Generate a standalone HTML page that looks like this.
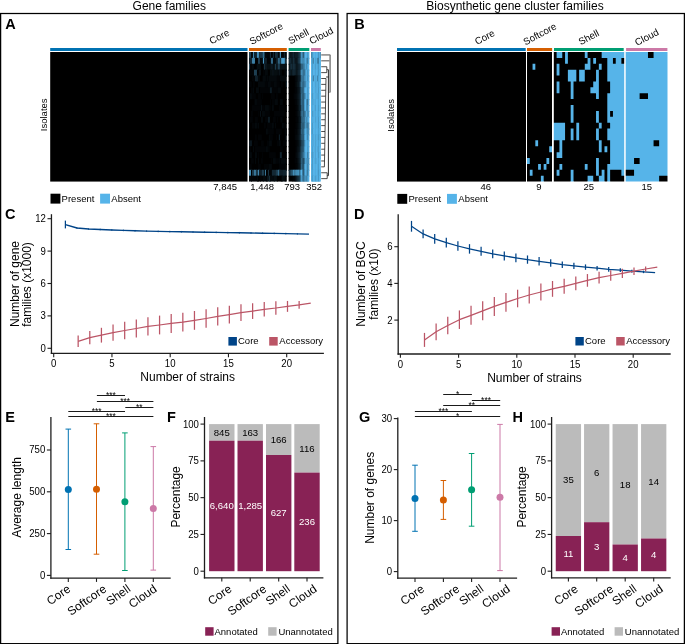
<!DOCTYPE html>
<html><head><meta charset="utf-8"><title>Figure</title>
<style>
html,body{margin:0;padding:0;background:#fff;}
svg{display:block;will-change:transform;}
text{font-family:"Liberation Sans", sans-serif;}
</style></head><body>
<svg width="685" height="644" viewBox="0 0 685 644">
<rect width="685" height="644" fill="#fff"/>
<g fill="#000">
<rect x="0.62" y="13.5" width="337.28" height="630.15" fill="none" stroke="#000" stroke-width="1.25"/>
<rect x="347.1" y="13.5" width="337.28" height="630.15" fill="none" stroke="#000" stroke-width="1.25"/>
<text x="169.3" y="9.6" font-size="12" text-anchor="middle">Gene families</text>
<text x="515" y="9.6" font-size="12" text-anchor="middle">Biosynthetic gene cluster families</text>
<text x="5.2" y="28.7" font-size="14.5" font-weight="bold">A</text>
<text x="354.3" y="28.5" font-size="14.5" font-weight="bold">B</text>
<text x="5" y="218.9" font-size="14.5" font-weight="bold">C</text>
<text x="354" y="218.9" font-size="14.5" font-weight="bold">D</text>
<text x="5.2" y="421.7" font-size="14.5" font-weight="bold">E</text>
<text x="167" y="421.7" font-size="14.5" font-weight="bold">F</text>
<text x="359" y="421.7" font-size="14.5" font-weight="bold">G</text>
<text x="512.5" y="421.9" font-size="14.5" font-weight="bold">H</text>
<rect x="50.2" y="48" width="197.3" height="3" fill="#0072B2"/>
<rect x="249" y="48" width="37.8" height="3" fill="#D55E00"/>
<rect x="288.6" y="48" width="20.7" height="3" fill="#009E73"/>
<rect x="311" y="48" width="9.8" height="3" fill="#CC79A7"/>
<rect x="50.2" y="52" width="197.3" height="129.58" fill="#000000"/>
<rect x="249" y="52" width="37" height="129" fill="#000000"/>
<rect x="249" y="52" width="2.79" height="6.89" fill="#1e3f52"/>
<rect x="250.99" y="52" width="2.79" height="6.89" fill="#04090c"/>
<rect x="252.98" y="52" width="1.79" height="6.89" fill="#4087af"/>
<rect x="253.97" y="52" width="3.78" height="6.89" fill="#11242f"/>
<rect x="256.96" y="52" width="2.79" height="6.89" fill="#438cb5"/>
<rect x="258.95" y="52" width="1.79" height="6.89" fill="#162d3a"/>
<rect x="259.94" y="52" width="2.79" height="6.89" fill="#1a3646"/>
<rect x="261.93" y="52" width="1.79" height="6.89" fill="#1e3f52"/>
<rect x="262.93" y="52" width="1.79" height="6.89" fill="#367092"/>
<rect x="263.92" y="52" width="1.79" height="6.89" fill="#1e3f52"/>
<rect x="264.92" y="52" width="2.79" height="6.89" fill="#04090c"/>
<rect x="266.91" y="52" width="3.78" height="6.89" fill="#020406"/>
<rect x="269.89" y="52" width="1.79" height="6.89" fill="#183240"/>
<rect x="270.88" y="52" width="2.79" height="6.89" fill="#020406"/>
<rect x="272.87" y="52" width="1.79" height="6.89" fill="#162d3a"/>
<rect x="273.87" y="52" width="1.79" height="6.89" fill="#000000"/>
<rect x="274.86" y="52" width="3.78" height="6.89" fill="#162d3a"/>
<rect x="277.85" y="52" width="2.79" height="6.89" fill="#04090c"/>
<rect x="279.84" y="52" width="1.79" height="6.89" fill="#50a6d8"/>
<rect x="280.83" y="52" width="1.79" height="6.89" fill="#04090c"/>
<rect x="281.83" y="52" width="2.79" height="6.89" fill="#020406"/>
<rect x="283.82" y="52" width="1.79" height="6.89" fill="#132834"/>
<rect x="284.81" y="52" width="1.79" height="6.89" fill="#000000"/>
<rect x="285.81" y="52" width="0.99" height="6.89" fill="#11242f"/>
<rect x="249" y="57.89" width="1.79" height="6.89" fill="#0d1b23"/>
<rect x="249.99" y="57.89" width="2.79" height="6.89" fill="#11242f"/>
<rect x="251.98" y="57.89" width="3.78" height="6.89" fill="#3c7ea3"/>
<rect x="254.97" y="57.89" width="1.79" height="6.89" fill="#020406"/>
<rect x="255.96" y="57.89" width="2.79" height="6.89" fill="#000000"/>
<rect x="257.95" y="57.89" width="2.79" height="6.89" fill="#1e3f52"/>
<rect x="259.94" y="57.89" width="3.78" height="6.89" fill="#04090c"/>
<rect x="262.93" y="57.89" width="1.79" height="6.89" fill="#4da2d2"/>
<rect x="263.92" y="57.89" width="3.78" height="6.89" fill="#0f1f29"/>
<rect x="266.91" y="57.89" width="4.78" height="6.89" fill="#020406"/>
<rect x="270.88" y="57.89" width="1.79" height="6.89" fill="#316786"/>
<rect x="271.88" y="57.89" width="1.79" height="6.89" fill="#387597"/>
<rect x="272.87" y="57.89" width="3.78" height="6.89" fill="#04090c"/>
<rect x="275.86" y="57.89" width="2.79" height="6.89" fill="#0f1f29"/>
<rect x="277.85" y="57.89" width="2.79" height="6.89" fill="#2f6380"/>
<rect x="279.84" y="57.89" width="1.79" height="6.89" fill="#11242f"/>
<rect x="280.83" y="57.89" width="1.79" height="6.89" fill="#4087af"/>
<rect x="281.83" y="57.89" width="3.78" height="6.89" fill="#4b9ecc"/>
<rect x="284.81" y="57.89" width="1.99" height="6.89" fill="#162d3a"/>
<rect x="249" y="63.78" width="1.79" height="6.89" fill="#1e3f52"/>
<rect x="249.99" y="63.78" width="2.79" height="6.89" fill="#020406"/>
<rect x="251.98" y="63.78" width="2.79" height="6.89" fill="#04090c"/>
<rect x="253.97" y="63.78" width="2.79" height="6.89" fill="#000000"/>
<rect x="255.96" y="63.78" width="1.79" height="6.89" fill="#020406"/>
<rect x="256.96" y="63.78" width="4.78" height="6.89" fill="#060e11"/>
<rect x="260.94" y="63.78" width="2.79" height="6.89" fill="#000000"/>
<rect x="262.93" y="63.78" width="1.79" height="6.89" fill="#020406"/>
<rect x="263.92" y="63.78" width="1.79" height="6.89" fill="#183240"/>
<rect x="264.92" y="63.78" width="2.79" height="6.89" fill="#0b161d"/>
<rect x="266.91" y="63.78" width="3.78" height="6.89" fill="#060e11"/>
<rect x="269.89" y="63.78" width="1.79" height="6.89" fill="#091217"/>
<rect x="270.88" y="63.78" width="2.79" height="6.89" fill="#0b161d"/>
<rect x="272.87" y="63.78" width="2.79" height="6.89" fill="#060e11"/>
<rect x="274.86" y="63.78" width="1.79" height="6.89" fill="#1e3f52"/>
<rect x="275.86" y="63.78" width="2.79" height="6.89" fill="#0b161d"/>
<rect x="277.85" y="63.78" width="2.79" height="6.89" fill="#1e3f52"/>
<rect x="279.84" y="63.78" width="5.77" height="6.89" fill="#091217"/>
<rect x="284.81" y="63.78" width="1.79" height="6.89" fill="#060e11"/>
<rect x="285.81" y="63.78" width="0.99" height="6.89" fill="#0b161d"/>
<rect x="249" y="69.67" width="5.77" height="6.89" fill="#020406"/>
<rect x="253.97" y="69.67" width="3.78" height="6.89" fill="#1e3f52"/>
<rect x="256.96" y="69.67" width="1.79" height="6.89" fill="#000000"/>
<rect x="257.95" y="69.67" width="1.79" height="6.89" fill="#020406"/>
<rect x="258.95" y="69.67" width="2.79" height="6.89" fill="#091217"/>
<rect x="260.94" y="69.67" width="2.79" height="6.89" fill="#000000"/>
<rect x="262.93" y="69.67" width="2.79" height="6.89" fill="#020406"/>
<rect x="264.92" y="69.67" width="3.78" height="6.89" fill="#04090c"/>
<rect x="267.9" y="69.67" width="2.79" height="6.89" fill="#000000"/>
<rect x="269.89" y="69.67" width="2.79" height="6.89" fill="#060e11"/>
<rect x="271.88" y="69.67" width="2.79" height="6.89" fill="#091217"/>
<rect x="273.87" y="69.67" width="4.78" height="6.89" fill="#060e11"/>
<rect x="277.85" y="69.67" width="1.79" height="6.89" fill="#04090c"/>
<rect x="278.84" y="69.67" width="1.79" height="6.89" fill="#0b161d"/>
<rect x="279.84" y="69.67" width="2.79" height="6.89" fill="#04090c"/>
<rect x="281.83" y="69.67" width="2.79" height="6.89" fill="#000000"/>
<rect x="283.82" y="69.67" width="2.79" height="6.89" fill="#020406"/>
<rect x="285.81" y="69.67" width="0.99" height="6.89" fill="#0b161d"/>
<rect x="249" y="75.56" width="3.78" height="6.89" fill="#000000"/>
<rect x="251.98" y="75.56" width="3.78" height="6.89" fill="#020406"/>
<rect x="254.97" y="75.56" width="3.78" height="6.89" fill="#0f1f29"/>
<rect x="257.95" y="75.56" width="2.79" height="6.89" fill="#04090c"/>
<rect x="259.94" y="75.56" width="2.79" height="6.89" fill="#000000"/>
<rect x="261.93" y="75.56" width="1.79" height="6.89" fill="#020406"/>
<rect x="262.93" y="75.56" width="3.78" height="6.89" fill="#04090c"/>
<rect x="265.91" y="75.56" width="1.79" height="6.89" fill="#020406"/>
<rect x="266.91" y="75.56" width="1.79" height="6.89" fill="#04090c"/>
<rect x="267.9" y="75.56" width="1.79" height="6.89" fill="#020406"/>
<rect x="268.89" y="75.56" width="8.76" height="6.89" fill="#04090c"/>
<rect x="276.85" y="75.56" width="3.78" height="6.89" fill="#020406"/>
<rect x="279.84" y="75.56" width="6.96" height="6.89" fill="#04090c"/>
<rect x="249" y="81.45" width="1.79" height="6.89" fill="#04090c"/>
<rect x="249.99" y="81.45" width="2.79" height="6.89" fill="#020406"/>
<rect x="251.98" y="81.45" width="1.79" height="6.89" fill="#000000"/>
<rect x="252.98" y="81.45" width="2.79" height="6.89" fill="#020406"/>
<rect x="254.97" y="81.45" width="3.78" height="6.89" fill="#000000"/>
<rect x="257.95" y="81.45" width="7.76" height="6.89" fill="#04090c"/>
<rect x="264.92" y="81.45" width="3.78" height="6.89" fill="#020406"/>
<rect x="267.9" y="81.45" width="3.78" height="6.89" fill="#04090c"/>
<rect x="270.88" y="81.45" width="3.78" height="6.89" fill="#020406"/>
<rect x="273.87" y="81.45" width="3.78" height="6.89" fill="#04090c"/>
<rect x="276.85" y="81.45" width="3.78" height="6.89" fill="#020406"/>
<rect x="279.84" y="81.45" width="1.79" height="6.89" fill="#000000"/>
<rect x="280.83" y="81.45" width="2.79" height="6.89" fill="#020406"/>
<rect x="282.82" y="81.45" width="3.78" height="6.89" fill="#000000"/>
<rect x="285.81" y="81.45" width="0.99" height="6.89" fill="#11242f"/>
<rect x="249" y="87.34" width="2.79" height="6.89" fill="#000000"/>
<rect x="250.99" y="87.34" width="2.79" height="6.89" fill="#020406"/>
<rect x="252.98" y="87.34" width="1.79" height="6.89" fill="#04090c"/>
<rect x="253.97" y="87.34" width="2.79" height="6.89" fill="#000000"/>
<rect x="255.96" y="87.34" width="3.78" height="6.89" fill="#04090c"/>
<rect x="258.95" y="87.34" width="1.79" height="6.89" fill="#000000"/>
<rect x="259.94" y="87.34" width="10.75" height="6.89" fill="#020406"/>
<rect x="269.89" y="87.34" width="2.79" height="6.89" fill="#0d1b23"/>
<rect x="271.88" y="87.34" width="6.77" height="6.89" fill="#020406"/>
<rect x="277.85" y="87.34" width="3.78" height="6.89" fill="#04090c"/>
<rect x="280.83" y="87.34" width="5.97" height="6.89" fill="#000000"/>
<rect x="249" y="93.23" width="1.79" height="6.89" fill="#000000"/>
<rect x="249.99" y="93.23" width="2.79" height="6.89" fill="#04090c"/>
<rect x="251.98" y="93.23" width="4.78" height="6.89" fill="#020406"/>
<rect x="255.96" y="93.23" width="2.79" height="6.89" fill="#000000"/>
<rect x="257.95" y="93.23" width="3.78" height="6.89" fill="#020406"/>
<rect x="260.94" y="93.23" width="1.79" height="6.89" fill="#000000"/>
<rect x="261.93" y="93.23" width="1.79" height="6.89" fill="#020406"/>
<rect x="262.93" y="93.23" width="8.76" height="6.89" fill="#000000"/>
<rect x="270.88" y="93.23" width="4.78" height="6.89" fill="#020406"/>
<rect x="274.86" y="93.23" width="1.79" height="6.89" fill="#000000"/>
<rect x="275.86" y="93.23" width="2.79" height="6.89" fill="#020406"/>
<rect x="277.85" y="93.23" width="8.95" height="6.89" fill="#000000"/>
<rect x="249" y="99.12" width="5.77" height="6.89" fill="#000000"/>
<rect x="253.97" y="99.12" width="1.79" height="6.89" fill="#020406"/>
<rect x="254.97" y="99.12" width="2.79" height="6.89" fill="#04090c"/>
<rect x="256.96" y="99.12" width="5.77" height="6.89" fill="#020406"/>
<rect x="261.93" y="99.12" width="8.76" height="6.89" fill="#000000"/>
<rect x="269.89" y="99.12" width="1.79" height="6.89" fill="#020406"/>
<rect x="270.88" y="99.12" width="1.79" height="6.89" fill="#000000"/>
<rect x="271.88" y="99.12" width="3.78" height="6.89" fill="#020406"/>
<rect x="274.86" y="99.12" width="3.78" height="6.89" fill="#04090c"/>
<rect x="277.85" y="99.12" width="2.79" height="6.89" fill="#000000"/>
<rect x="279.84" y="99.12" width="3.78" height="6.89" fill="#04090c"/>
<rect x="282.82" y="99.12" width="3.98" height="6.89" fill="#000000"/>
<rect x="249" y="105.01" width="3.78" height="6.89" fill="#000000"/>
<rect x="251.98" y="105.01" width="9.75" height="6.89" fill="#020406"/>
<rect x="260.94" y="105.01" width="1.79" height="6.89" fill="#091217"/>
<rect x="261.93" y="105.01" width="3.78" height="6.89" fill="#020406"/>
<rect x="264.92" y="105.01" width="4.78" height="6.89" fill="#04090c"/>
<rect x="268.89" y="105.01" width="2.79" height="6.89" fill="#020406"/>
<rect x="270.88" y="105.01" width="1.79" height="6.89" fill="#000000"/>
<rect x="271.88" y="105.01" width="2.79" height="6.89" fill="#04090c"/>
<rect x="273.87" y="105.01" width="5.77" height="6.89" fill="#000000"/>
<rect x="278.84" y="105.01" width="6.77" height="6.89" fill="#020406"/>
<rect x="284.81" y="105.01" width="1.79" height="6.89" fill="#000000"/>
<rect x="285.81" y="105.01" width="0.99" height="6.89" fill="#020406"/>
<rect x="249" y="110.9" width="2.79" height="6.89" fill="#000000"/>
<rect x="250.99" y="110.9" width="2.79" height="6.89" fill="#020406"/>
<rect x="252.98" y="110.9" width="5.77" height="6.89" fill="#000000"/>
<rect x="257.95" y="110.9" width="1.79" height="6.89" fill="#020406"/>
<rect x="258.95" y="110.9" width="1.79" height="6.89" fill="#000000"/>
<rect x="259.94" y="110.9" width="1.79" height="6.89" fill="#091217"/>
<rect x="260.94" y="110.9" width="1.79" height="6.89" fill="#000000"/>
<rect x="261.93" y="110.9" width="3.78" height="6.89" fill="#04090c"/>
<rect x="264.92" y="110.9" width="5.77" height="6.89" fill="#020406"/>
<rect x="269.89" y="110.9" width="4.78" height="6.89" fill="#000000"/>
<rect x="273.87" y="110.9" width="11.74" height="6.89" fill="#020406"/>
<rect x="284.81" y="110.9" width="1.99" height="6.89" fill="#000000"/>
<rect x="249" y="116.79" width="1.79" height="6.89" fill="#000000"/>
<rect x="249.99" y="116.79" width="3.78" height="6.89" fill="#020406"/>
<rect x="252.98" y="116.79" width="2.79" height="6.89" fill="#000000"/>
<rect x="254.97" y="116.79" width="3.78" height="6.89" fill="#020406"/>
<rect x="257.95" y="116.79" width="3.78" height="6.89" fill="#000000"/>
<rect x="260.94" y="116.79" width="2.79" height="6.89" fill="#04090c"/>
<rect x="262.93" y="116.79" width="2.79" height="6.89" fill="#000000"/>
<rect x="264.92" y="116.79" width="3.78" height="6.89" fill="#020406"/>
<rect x="267.9" y="116.79" width="2.79" height="6.89" fill="#0d1b23"/>
<rect x="269.89" y="116.79" width="3.78" height="6.89" fill="#000000"/>
<rect x="272.87" y="116.79" width="3.78" height="6.89" fill="#020406"/>
<rect x="275.86" y="116.79" width="1.79" height="6.89" fill="#000000"/>
<rect x="276.85" y="116.79" width="1.79" height="6.89" fill="#020406"/>
<rect x="277.85" y="116.79" width="2.79" height="6.89" fill="#000000"/>
<rect x="279.84" y="116.79" width="1.79" height="6.89" fill="#020406"/>
<rect x="280.83" y="116.79" width="1.79" height="6.89" fill="#04090c"/>
<rect x="281.83" y="116.79" width="1.79" height="6.89" fill="#020406"/>
<rect x="282.82" y="116.79" width="3.98" height="6.89" fill="#000000"/>
<rect x="249" y="122.68" width="1.79" height="6.89" fill="#04090c"/>
<rect x="249.99" y="122.68" width="2.79" height="6.89" fill="#000000"/>
<rect x="251.98" y="122.68" width="3.78" height="6.89" fill="#020406"/>
<rect x="254.97" y="122.68" width="2.79" height="6.89" fill="#04090c"/>
<rect x="256.96" y="122.68" width="1.79" height="6.89" fill="#020406"/>
<rect x="257.95" y="122.68" width="1.79" height="6.89" fill="#04090c"/>
<rect x="258.95" y="122.68" width="5.77" height="6.89" fill="#000000"/>
<rect x="263.92" y="122.68" width="2.79" height="6.89" fill="#020406"/>
<rect x="265.91" y="122.68" width="1.79" height="6.89" fill="#000000"/>
<rect x="266.91" y="122.68" width="5.77" height="6.89" fill="#020406"/>
<rect x="271.88" y="122.68" width="2.79" height="6.89" fill="#04090c"/>
<rect x="273.87" y="122.68" width="1.79" height="6.89" fill="#000000"/>
<rect x="274.86" y="122.68" width="1.79" height="6.89" fill="#04090c"/>
<rect x="275.86" y="122.68" width="6.77" height="6.89" fill="#000000"/>
<rect x="281.83" y="122.68" width="2.79" height="6.89" fill="#04090c"/>
<rect x="283.82" y="122.68" width="2.98" height="6.89" fill="#020406"/>
<rect x="249" y="128.57" width="17.71" height="6.89" fill="#000000"/>
<rect x="265.91" y="128.57" width="2.79" height="6.89" fill="#04090c"/>
<rect x="267.9" y="128.57" width="6.77" height="6.89" fill="#020406"/>
<rect x="273.87" y="128.57" width="2.79" height="6.89" fill="#000000"/>
<rect x="275.86" y="128.57" width="6.77" height="6.89" fill="#020406"/>
<rect x="281.83" y="128.57" width="3.78" height="6.89" fill="#000000"/>
<rect x="284.81" y="128.57" width="1.79" height="6.89" fill="#04090c"/>
<rect x="285.81" y="128.57" width="0.99" height="6.89" fill="#000000"/>
<rect x="249" y="134.46" width="1.79" height="6.89" fill="#020406"/>
<rect x="249.99" y="134.46" width="5.77" height="6.89" fill="#000000"/>
<rect x="254.97" y="134.46" width="2.79" height="6.89" fill="#020406"/>
<rect x="256.96" y="134.46" width="1.79" height="6.89" fill="#000000"/>
<rect x="257.95" y="134.46" width="4.78" height="6.89" fill="#020406"/>
<rect x="261.93" y="134.46" width="7.76" height="6.89" fill="#000000"/>
<rect x="268.89" y="134.46" width="1.79" height="6.89" fill="#04090c"/>
<rect x="269.89" y="134.46" width="3.78" height="6.89" fill="#020406"/>
<rect x="272.87" y="134.46" width="3.78" height="6.89" fill="#000000"/>
<rect x="275.86" y="134.46" width="1.79" height="6.89" fill="#020406"/>
<rect x="276.85" y="134.46" width="2.79" height="6.89" fill="#000000"/>
<rect x="278.84" y="134.46" width="1.79" height="6.89" fill="#11242f"/>
<rect x="279.84" y="134.46" width="5.77" height="6.89" fill="#000000"/>
<rect x="284.81" y="134.46" width="1.99" height="6.89" fill="#04090c"/>
<rect x="249" y="140.35" width="3.78" height="6.89" fill="#0b161d"/>
<rect x="251.98" y="140.35" width="2.79" height="6.89" fill="#000000"/>
<rect x="253.97" y="140.35" width="4.78" height="6.89" fill="#020406"/>
<rect x="257.95" y="140.35" width="3.78" height="6.89" fill="#000000"/>
<rect x="260.94" y="140.35" width="3.78" height="6.89" fill="#020406"/>
<rect x="263.92" y="140.35" width="3.78" height="6.89" fill="#000000"/>
<rect x="266.91" y="140.35" width="2.79" height="6.89" fill="#020406"/>
<rect x="268.89" y="140.35" width="3.78" height="6.89" fill="#04090c"/>
<rect x="271.88" y="140.35" width="5.77" height="6.89" fill="#000000"/>
<rect x="276.85" y="140.35" width="2.79" height="6.89" fill="#020406"/>
<rect x="278.84" y="140.35" width="2.79" height="6.89" fill="#04090c"/>
<rect x="280.83" y="140.35" width="2.79" height="6.89" fill="#000000"/>
<rect x="282.82" y="140.35" width="3.98" height="6.89" fill="#020406"/>
<rect x="249" y="146.24" width="2.79" height="6.89" fill="#020406"/>
<rect x="250.99" y="146.24" width="2.79" height="6.89" fill="#000000"/>
<rect x="252.98" y="146.24" width="1.79" height="6.89" fill="#04090c"/>
<rect x="253.97" y="146.24" width="1.79" height="6.89" fill="#000000"/>
<rect x="254.97" y="146.24" width="11.74" height="6.89" fill="#020406"/>
<rect x="265.91" y="146.24" width="2.79" height="6.89" fill="#04090c"/>
<rect x="267.9" y="146.24" width="2.79" height="6.89" fill="#020406"/>
<rect x="269.89" y="146.24" width="10.75" height="6.89" fill="#000000"/>
<rect x="279.84" y="146.24" width="3.78" height="6.89" fill="#020406"/>
<rect x="282.82" y="146.24" width="3.98" height="6.89" fill="#000000"/>
<rect x="249" y="152.13" width="3.78" height="6.89" fill="#04090c"/>
<rect x="251.98" y="152.13" width="3.78" height="6.89" fill="#000000"/>
<rect x="254.97" y="152.13" width="2.79" height="6.89" fill="#04090c"/>
<rect x="256.96" y="152.13" width="1.79" height="6.89" fill="#000000"/>
<rect x="257.95" y="152.13" width="1.79" height="6.89" fill="#020406"/>
<rect x="258.95" y="152.13" width="3.78" height="6.89" fill="#000000"/>
<rect x="261.93" y="152.13" width="1.79" height="6.89" fill="#020406"/>
<rect x="262.93" y="152.13" width="6.77" height="6.89" fill="#000000"/>
<rect x="268.89" y="152.13" width="7.76" height="6.89" fill="#020406"/>
<rect x="275.86" y="152.13" width="4.78" height="6.89" fill="#000000"/>
<rect x="279.84" y="152.13" width="2.79" height="6.89" fill="#11242f"/>
<rect x="281.83" y="152.13" width="4.78" height="6.89" fill="#000000"/>
<rect x="285.81" y="152.13" width="0.99" height="6.89" fill="#04090c"/>
<rect x="249" y="158.02" width="2.79" height="6.89" fill="#000000"/>
<rect x="250.99" y="158.02" width="3.78" height="6.89" fill="#020406"/>
<rect x="253.97" y="158.02" width="1.79" height="6.89" fill="#000000"/>
<rect x="254.97" y="158.02" width="1.79" height="6.89" fill="#04090c"/>
<rect x="255.96" y="158.02" width="2.79" height="6.89" fill="#000000"/>
<rect x="257.95" y="158.02" width="1.79" height="6.89" fill="#04090c"/>
<rect x="258.95" y="158.02" width="2.79" height="6.89" fill="#000000"/>
<rect x="260.94" y="158.02" width="2.79" height="6.89" fill="#020406"/>
<rect x="262.93" y="158.02" width="8.76" height="6.89" fill="#000000"/>
<rect x="270.88" y="158.02" width="1.79" height="6.89" fill="#020406"/>
<rect x="271.88" y="158.02" width="1.79" height="6.89" fill="#000000"/>
<rect x="272.87" y="158.02" width="3.78" height="6.89" fill="#04090c"/>
<rect x="275.86" y="158.02" width="3.78" height="6.89" fill="#020406"/>
<rect x="278.84" y="158.02" width="1.79" height="6.89" fill="#04090c"/>
<rect x="279.84" y="158.02" width="1.79" height="6.89" fill="#020406"/>
<rect x="280.83" y="158.02" width="5.77" height="6.89" fill="#04090c"/>
<rect x="285.81" y="158.02" width="0.99" height="6.89" fill="#000000"/>
<rect x="249" y="163.91" width="3.78" height="6.89" fill="#020406"/>
<rect x="251.98" y="163.91" width="6.77" height="6.89" fill="#000000"/>
<rect x="257.95" y="163.91" width="3.78" height="6.89" fill="#020406"/>
<rect x="260.94" y="163.91" width="3.78" height="6.89" fill="#000000"/>
<rect x="263.92" y="163.91" width="5.77" height="6.89" fill="#020406"/>
<rect x="268.89" y="163.91" width="3.78" height="6.89" fill="#04090c"/>
<rect x="271.88" y="163.91" width="7.76" height="6.89" fill="#000000"/>
<rect x="278.84" y="163.91" width="6.77" height="6.89" fill="#020406"/>
<rect x="284.81" y="163.91" width="1.79" height="6.89" fill="#04090c"/>
<rect x="285.81" y="163.91" width="0.99" height="6.89" fill="#000000"/>
<rect x="249" y="169.8" width="2.79" height="6.89" fill="#438cb5"/>
<rect x="250.99" y="169.8" width="1.79" height="6.89" fill="#000000"/>
<rect x="251.98" y="169.8" width="2.79" height="6.89" fill="#1c3a4c"/>
<rect x="253.97" y="169.8" width="2.79" height="6.89" fill="#387597"/>
<rect x="255.96" y="169.8" width="2.79" height="6.89" fill="#1a3646"/>
<rect x="257.95" y="169.8" width="1.79" height="6.89" fill="#438cb5"/>
<rect x="258.95" y="169.8" width="3.78" height="6.89" fill="#0f1f29"/>
<rect x="261.93" y="169.8" width="2.79" height="6.89" fill="#1e3f52"/>
<rect x="263.92" y="169.8" width="1.79" height="6.89" fill="#04090c"/>
<rect x="264.92" y="169.8" width="1.79" height="6.89" fill="#3c7ea3"/>
<rect x="265.91" y="169.8" width="2.79" height="6.89" fill="#000000"/>
<rect x="267.9" y="169.8" width="1.79" height="6.89" fill="#1a3646"/>
<rect x="268.89" y="169.8" width="3.78" height="6.89" fill="#020406"/>
<rect x="271.88" y="169.8" width="4.78" height="6.89" fill="#132834"/>
<rect x="275.86" y="169.8" width="2.79" height="6.89" fill="#1c3a4c"/>
<rect x="277.85" y="169.8" width="1.79" height="6.89" fill="#387597"/>
<rect x="278.84" y="169.8" width="1.79" height="6.89" fill="#183240"/>
<rect x="279.84" y="169.8" width="3.78" height="6.89" fill="#0f1f29"/>
<rect x="282.82" y="169.8" width="3.98" height="6.89" fill="#11242f"/>
<rect x="249" y="175.69" width="2.79" height="5.89" fill="#04090c"/>
<rect x="250.99" y="175.69" width="6.77" height="5.89" fill="#020406"/>
<rect x="256.96" y="175.69" width="1.79" height="5.89" fill="#04090c"/>
<rect x="257.95" y="175.69" width="2.79" height="5.89" fill="#000000"/>
<rect x="259.94" y="175.69" width="3.78" height="5.89" fill="#020406"/>
<rect x="262.93" y="175.69" width="3.78" height="5.89" fill="#04090c"/>
<rect x="265.91" y="175.69" width="1.79" height="5.89" fill="#020406"/>
<rect x="266.91" y="175.69" width="2.79" height="5.89" fill="#091217"/>
<rect x="268.89" y="175.69" width="1.79" height="5.89" fill="#162d3a"/>
<rect x="269.89" y="175.69" width="4.78" height="5.89" fill="#04090c"/>
<rect x="273.87" y="175.69" width="3.78" height="5.89" fill="#060e11"/>
<rect x="276.85" y="175.69" width="4.78" height="5.89" fill="#000000"/>
<rect x="280.83" y="175.69" width="1.79" height="5.89" fill="#020406"/>
<rect x="281.83" y="175.69" width="3.78" height="5.89" fill="#060e11"/>
<rect x="284.81" y="175.69" width="1.99" height="5.89" fill="#020406"/>
<rect x="289" y="52" width="20" height="129" fill="#000000"/>
<rect x="288.6" y="52" width="1.79" height="6.89" fill="#162d3a"/>
<rect x="289.59" y="52" width="1.79" height="6.89" fill="#091217"/>
<rect x="290.57" y="52" width="1.79" height="6.89" fill="#0f1f29"/>
<rect x="291.56" y="52" width="1.79" height="6.89" fill="#091217"/>
<rect x="292.54" y="52" width="1.79" height="6.89" fill="#162d3a"/>
<rect x="293.53" y="52" width="1.79" height="6.89" fill="#11242f"/>
<rect x="294.51" y="52" width="1.79" height="6.89" fill="#060e11"/>
<rect x="295.5" y="52" width="1.79" height="6.89" fill="#162d3a"/>
<rect x="296.49" y="52" width="1.79" height="6.89" fill="#091217"/>
<rect x="297.47" y="52" width="2.77" height="6.89" fill="#162d3a"/>
<rect x="299.44" y="52" width="1.79" height="6.89" fill="#22485d"/>
<rect x="300.43" y="52" width="1.79" height="6.89" fill="#346c8c"/>
<rect x="301.41" y="52" width="1.79" height="6.89" fill="#56b4e9"/>
<rect x="302.4" y="52" width="1.79" height="6.89" fill="#2b5a74"/>
<rect x="303.39" y="52" width="1.79" height="6.89" fill="#2d5e7a"/>
<rect x="304.37" y="52" width="2.77" height="6.89" fill="#56b4e9"/>
<rect x="306.34" y="52" width="1.79" height="6.89" fill="#54b0e3"/>
<rect x="307.33" y="52" width="1.79" height="6.89" fill="#4794c0"/>
<rect x="308.31" y="52" width="0.99" height="6.89" fill="#56b4e9"/>
<rect x="288.6" y="57.89" width="1.79" height="6.89" fill="#11242f"/>
<rect x="289.59" y="57.89" width="2.77" height="6.89" fill="#132834"/>
<rect x="291.56" y="57.89" width="1.79" height="6.89" fill="#060e11"/>
<rect x="292.54" y="57.89" width="2.77" height="6.89" fill="#162d3a"/>
<rect x="294.51" y="57.89" width="3.76" height="6.89" fill="#0b161d"/>
<rect x="297.47" y="57.89" width="1.79" height="6.89" fill="#132834"/>
<rect x="298.46" y="57.89" width="2.77" height="6.89" fill="#1e3f52"/>
<rect x="300.43" y="57.89" width="1.79" height="6.89" fill="#4087af"/>
<rect x="301.41" y="57.89" width="1.79" height="6.89" fill="#4b9ecc"/>
<rect x="302.4" y="57.89" width="1.79" height="6.89" fill="#3c7ea3"/>
<rect x="303.39" y="57.89" width="1.79" height="6.89" fill="#4590ba"/>
<rect x="304.37" y="57.89" width="1.79" height="6.89" fill="#4999c6"/>
<rect x="305.36" y="57.89" width="1.79" height="6.89" fill="#56b4e9"/>
<rect x="306.34" y="57.89" width="1.79" height="6.89" fill="#3e82a9"/>
<rect x="307.33" y="57.89" width="1.79" height="6.89" fill="#3a7a9d"/>
<rect x="308.31" y="57.89" width="0.99" height="6.89" fill="#56b4e9"/>
<rect x="288.6" y="63.78" width="1.79" height="6.89" fill="#060e11"/>
<rect x="289.59" y="63.78" width="1.79" height="6.89" fill="#0b161d"/>
<rect x="290.57" y="63.78" width="1.79" height="6.89" fill="#1c3a4c"/>
<rect x="291.56" y="63.78" width="1.79" height="6.89" fill="#0d1b23"/>
<rect x="292.54" y="63.78" width="1.79" height="6.89" fill="#162d3a"/>
<rect x="293.53" y="63.78" width="1.79" height="6.89" fill="#183240"/>
<rect x="294.51" y="63.78" width="1.79" height="6.89" fill="#11242f"/>
<rect x="295.5" y="63.78" width="1.79" height="6.89" fill="#0f1f29"/>
<rect x="296.49" y="63.78" width="1.79" height="6.89" fill="#060e11"/>
<rect x="297.47" y="63.78" width="1.79" height="6.89" fill="#11242f"/>
<rect x="298.46" y="63.78" width="1.79" height="6.89" fill="#0f1f29"/>
<rect x="299.44" y="63.78" width="1.79" height="6.89" fill="#162d3a"/>
<rect x="300.43" y="63.78" width="1.79" height="6.89" fill="#22485d"/>
<rect x="301.41" y="63.78" width="1.79" height="6.89" fill="#387597"/>
<rect x="302.4" y="63.78" width="1.79" height="6.89" fill="#2b5a74"/>
<rect x="303.39" y="63.78" width="1.79" height="6.89" fill="#4087af"/>
<rect x="304.37" y="63.78" width="1.79" height="6.89" fill="#3e82a9"/>
<rect x="305.36" y="63.78" width="1.79" height="6.89" fill="#56b4e9"/>
<rect x="306.34" y="63.78" width="1.79" height="6.89" fill="#3c7ea3"/>
<rect x="307.33" y="63.78" width="1.97" height="6.89" fill="#56b4e9"/>
<rect x="288.6" y="69.67" width="1.79" height="6.89" fill="#0d1b23"/>
<rect x="289.59" y="69.67" width="1.79" height="6.89" fill="#11242f"/>
<rect x="290.57" y="69.67" width="1.79" height="6.89" fill="#091217"/>
<rect x="291.56" y="69.67" width="1.79" height="6.89" fill="#0d1b23"/>
<rect x="292.54" y="69.67" width="1.79" height="6.89" fill="#132834"/>
<rect x="293.53" y="69.67" width="2.77" height="6.89" fill="#11242f"/>
<rect x="295.5" y="69.67" width="1.79" height="6.89" fill="#0d1b23"/>
<rect x="296.49" y="69.67" width="1.79" height="6.89" fill="#091217"/>
<rect x="297.47" y="69.67" width="1.79" height="6.89" fill="#11242f"/>
<rect x="298.46" y="69.67" width="1.79" height="6.89" fill="#132834"/>
<rect x="299.44" y="69.67" width="1.79" height="6.89" fill="#162d3a"/>
<rect x="300.43" y="69.67" width="1.79" height="6.89" fill="#367092"/>
<rect x="301.41" y="69.67" width="1.79" height="6.89" fill="#4da2d2"/>
<rect x="302.4" y="69.67" width="1.79" height="6.89" fill="#346c8c"/>
<rect x="303.39" y="69.67" width="1.79" height="6.89" fill="#367092"/>
<rect x="304.37" y="69.67" width="1.79" height="6.89" fill="#387597"/>
<rect x="305.36" y="69.67" width="1.79" height="6.89" fill="#52abdd"/>
<rect x="306.34" y="69.67" width="1.79" height="6.89" fill="#54b0e3"/>
<rect x="307.33" y="69.67" width="1.79" height="6.89" fill="#438cb5"/>
<rect x="308.31" y="69.67" width="0.99" height="6.89" fill="#56b4e9"/>
<rect x="288.6" y="75.56" width="6.71" height="6.89" fill="#000000"/>
<rect x="294.51" y="75.56" width="1.79" height="6.89" fill="#020406"/>
<rect x="295.5" y="75.56" width="2.77" height="6.89" fill="#04090c"/>
<rect x="297.47" y="75.56" width="1.79" height="6.89" fill="#0b161d"/>
<rect x="298.46" y="75.56" width="1.79" height="6.89" fill="#0d1b23"/>
<rect x="299.44" y="75.56" width="1.79" height="6.89" fill="#0f1f29"/>
<rect x="300.43" y="75.56" width="1.79" height="6.89" fill="#254c63"/>
<rect x="301.41" y="75.56" width="1.79" height="6.89" fill="#4590ba"/>
<rect x="302.4" y="75.56" width="1.79" height="6.89" fill="#2f6380"/>
<rect x="303.39" y="75.56" width="1.79" height="6.89" fill="#3a7a9d"/>
<rect x="304.37" y="75.56" width="1.79" height="6.89" fill="#4794c0"/>
<rect x="305.36" y="75.56" width="1.79" height="6.89" fill="#4b9ecc"/>
<rect x="306.34" y="75.56" width="1.79" height="6.89" fill="#56b4e9"/>
<rect x="307.33" y="75.56" width="1.79" height="6.89" fill="#3e82a9"/>
<rect x="308.31" y="75.56" width="0.99" height="6.89" fill="#56b4e9"/>
<rect x="288.6" y="81.45" width="6.71" height="6.89" fill="#000000"/>
<rect x="294.51" y="81.45" width="1.79" height="6.89" fill="#020406"/>
<rect x="295.5" y="81.45" width="1.79" height="6.89" fill="#04090c"/>
<rect x="296.49" y="81.45" width="1.79" height="6.89" fill="#060e11"/>
<rect x="297.47" y="81.45" width="1.79" height="6.89" fill="#0d1b23"/>
<rect x="298.46" y="81.45" width="1.79" height="6.89" fill="#0b161d"/>
<rect x="299.44" y="81.45" width="1.79" height="6.89" fill="#1a3646"/>
<rect x="300.43" y="81.45" width="1.79" height="6.89" fill="#2f6380"/>
<rect x="301.41" y="81.45" width="1.79" height="6.89" fill="#438cb5"/>
<rect x="302.4" y="81.45" width="1.79" height="6.89" fill="#29566f"/>
<rect x="303.39" y="81.45" width="1.79" height="6.89" fill="#367092"/>
<rect x="304.37" y="81.45" width="1.79" height="6.89" fill="#3c7ea3"/>
<rect x="305.36" y="81.45" width="1.79" height="6.89" fill="#4590ba"/>
<rect x="306.34" y="81.45" width="1.79" height="6.89" fill="#56b4e9"/>
<rect x="307.33" y="81.45" width="1.79" height="6.89" fill="#4999c6"/>
<rect x="308.31" y="81.45" width="0.99" height="6.89" fill="#56b4e9"/>
<rect x="288.6" y="87.34" width="6.71" height="6.89" fill="#000000"/>
<rect x="294.51" y="87.34" width="2.77" height="6.89" fill="#020406"/>
<rect x="296.49" y="87.34" width="1.79" height="6.89" fill="#04090c"/>
<rect x="297.47" y="87.34" width="1.79" height="6.89" fill="#091217"/>
<rect x="298.46" y="87.34" width="1.79" height="6.89" fill="#0b161d"/>
<rect x="299.44" y="87.34" width="1.79" height="6.89" fill="#0f1f29"/>
<rect x="300.43" y="87.34" width="1.79" height="6.89" fill="#29566f"/>
<rect x="301.41" y="87.34" width="1.79" height="6.89" fill="#346c8c"/>
<rect x="302.4" y="87.34" width="1.79" height="6.89" fill="#29566f"/>
<rect x="303.39" y="87.34" width="1.79" height="6.89" fill="#367092"/>
<rect x="304.37" y="87.34" width="3.76" height="6.89" fill="#56b4e9"/>
<rect x="307.33" y="87.34" width="1.79" height="6.89" fill="#438cb5"/>
<rect x="308.31" y="87.34" width="0.99" height="6.89" fill="#56b4e9"/>
<rect x="288.6" y="93.23" width="5.73" height="6.89" fill="#000000"/>
<rect x="293.53" y="93.23" width="2.77" height="6.89" fill="#020406"/>
<rect x="295.5" y="93.23" width="2.77" height="6.89" fill="#04090c"/>
<rect x="297.47" y="93.23" width="2.77" height="6.89" fill="#0b161d"/>
<rect x="299.44" y="93.23" width="1.79" height="6.89" fill="#132834"/>
<rect x="300.43" y="93.23" width="1.79" height="6.89" fill="#22485d"/>
<rect x="301.41" y="93.23" width="1.79" height="6.89" fill="#4087af"/>
<rect x="302.4" y="93.23" width="1.79" height="6.89" fill="#204457"/>
<rect x="303.39" y="93.23" width="1.79" height="6.89" fill="#346c8c"/>
<rect x="304.37" y="93.23" width="1.79" height="6.89" fill="#3e82a9"/>
<rect x="305.36" y="93.23" width="1.79" height="6.89" fill="#50a6d8"/>
<rect x="306.34" y="93.23" width="1.79" height="6.89" fill="#56b4e9"/>
<rect x="307.33" y="93.23" width="1.79" height="6.89" fill="#438cb5"/>
<rect x="308.31" y="93.23" width="0.99" height="6.89" fill="#56b4e9"/>
<rect x="288.6" y="99.12" width="6.71" height="6.89" fill="#000000"/>
<rect x="294.51" y="99.12" width="2.77" height="6.89" fill="#020406"/>
<rect x="296.49" y="99.12" width="1.79" height="6.89" fill="#04090c"/>
<rect x="297.47" y="99.12" width="1.79" height="6.89" fill="#091217"/>
<rect x="298.46" y="99.12" width="1.79" height="6.89" fill="#0b161d"/>
<rect x="299.44" y="99.12" width="1.79" height="6.89" fill="#11242f"/>
<rect x="300.43" y="99.12" width="1.79" height="6.89" fill="#22485d"/>
<rect x="301.41" y="99.12" width="1.79" height="6.89" fill="#3e82a9"/>
<rect x="302.4" y="99.12" width="1.79" height="6.89" fill="#22485d"/>
<rect x="303.39" y="99.12" width="1.79" height="6.89" fill="#316786"/>
<rect x="304.37" y="99.12" width="2.77" height="6.89" fill="#56b4e9"/>
<rect x="306.34" y="99.12" width="1.79" height="6.89" fill="#3c7ea3"/>
<rect x="307.33" y="99.12" width="1.79" height="6.89" fill="#367092"/>
<rect x="308.31" y="99.12" width="0.99" height="6.89" fill="#56b4e9"/>
<rect x="288.6" y="105.01" width="7.7" height="6.89" fill="#000000"/>
<rect x="295.5" y="105.01" width="2.77" height="6.89" fill="#020406"/>
<rect x="297.47" y="105.01" width="1.79" height="6.89" fill="#060e11"/>
<rect x="298.46" y="105.01" width="1.79" height="6.89" fill="#0b161d"/>
<rect x="299.44" y="105.01" width="1.79" height="6.89" fill="#11242f"/>
<rect x="300.43" y="105.01" width="1.79" height="6.89" fill="#183240"/>
<rect x="301.41" y="105.01" width="1.79" height="6.89" fill="#3c7ea3"/>
<rect x="302.4" y="105.01" width="1.79" height="6.89" fill="#254c63"/>
<rect x="303.39" y="105.01" width="1.79" height="6.89" fill="#2f6380"/>
<rect x="304.37" y="105.01" width="2.77" height="6.89" fill="#56b4e9"/>
<rect x="306.34" y="105.01" width="1.79" height="6.89" fill="#3c7ea3"/>
<rect x="307.33" y="105.01" width="1.79" height="6.89" fill="#4087af"/>
<rect x="308.31" y="105.01" width="0.99" height="6.89" fill="#56b4e9"/>
<rect x="288.6" y="110.9" width="7.7" height="6.89" fill="#000000"/>
<rect x="295.5" y="110.9" width="2.77" height="6.89" fill="#020406"/>
<rect x="297.47" y="110.9" width="2.77" height="6.89" fill="#091217"/>
<rect x="299.44" y="110.9" width="1.79" height="6.89" fill="#0d1b23"/>
<rect x="300.43" y="110.9" width="1.79" height="6.89" fill="#254c63"/>
<rect x="301.41" y="110.9" width="1.79" height="6.89" fill="#3a7a9d"/>
<rect x="302.4" y="110.9" width="1.79" height="6.89" fill="#316786"/>
<rect x="303.39" y="110.9" width="1.79" height="6.89" fill="#275169"/>
<rect x="304.37" y="110.9" width="1.79" height="6.89" fill="#3e82a9"/>
<rect x="305.36" y="110.9" width="1.79" height="6.89" fill="#438cb5"/>
<rect x="306.34" y="110.9" width="1.79" height="6.89" fill="#56b4e9"/>
<rect x="307.33" y="110.9" width="1.79" height="6.89" fill="#3a7a9d"/>
<rect x="308.31" y="110.9" width="0.99" height="6.89" fill="#4da2d2"/>
<rect x="288.6" y="116.79" width="7.7" height="6.89" fill="#000000"/>
<rect x="295.5" y="116.79" width="2.77" height="6.89" fill="#020406"/>
<rect x="297.47" y="116.79" width="1.79" height="6.89" fill="#04090c"/>
<rect x="298.46" y="116.79" width="1.79" height="6.89" fill="#091217"/>
<rect x="299.44" y="116.79" width="1.79" height="6.89" fill="#0d1b23"/>
<rect x="300.43" y="116.79" width="1.79" height="6.89" fill="#162d3a"/>
<rect x="301.41" y="116.79" width="1.79" height="6.89" fill="#3c7ea3"/>
<rect x="302.4" y="116.79" width="1.79" height="6.89" fill="#29566f"/>
<rect x="303.39" y="116.79" width="1.79" height="6.89" fill="#387597"/>
<rect x="304.37" y="116.79" width="1.79" height="6.89" fill="#367092"/>
<rect x="305.36" y="116.79" width="1.79" height="6.89" fill="#56b4e9"/>
<rect x="306.34" y="116.79" width="1.79" height="6.89" fill="#3a7a9d"/>
<rect x="307.33" y="116.79" width="1.79" height="6.89" fill="#50a6d8"/>
<rect x="308.31" y="116.79" width="0.99" height="6.89" fill="#56b4e9"/>
<rect x="288.6" y="122.68" width="7.7" height="6.89" fill="#000000"/>
<rect x="295.5" y="122.68" width="2.77" height="6.89" fill="#020406"/>
<rect x="297.47" y="122.68" width="1.79" height="6.89" fill="#060e11"/>
<rect x="298.46" y="122.68" width="1.79" height="6.89" fill="#091217"/>
<rect x="299.44" y="122.68" width="1.79" height="6.89" fill="#0d1b23"/>
<rect x="300.43" y="122.68" width="1.79" height="6.89" fill="#1a3646"/>
<rect x="301.41" y="122.68" width="1.79" height="6.89" fill="#3a7a9d"/>
<rect x="302.4" y="122.68" width="1.79" height="6.89" fill="#22485d"/>
<rect x="303.39" y="122.68" width="1.79" height="6.89" fill="#316786"/>
<rect x="304.37" y="122.68" width="1.79" height="6.89" fill="#3a7a9d"/>
<rect x="305.36" y="122.68" width="1.79" height="6.89" fill="#52abdd"/>
<rect x="306.34" y="122.68" width="1.79" height="6.89" fill="#387597"/>
<rect x="307.33" y="122.68" width="1.79" height="6.89" fill="#3a7a9d"/>
<rect x="308.31" y="122.68" width="0.99" height="6.89" fill="#4794c0"/>
<rect x="288.6" y="128.57" width="6.71" height="6.89" fill="#000000"/>
<rect x="294.51" y="128.57" width="3.76" height="6.89" fill="#020406"/>
<rect x="297.47" y="128.57" width="2.77" height="6.89" fill="#091217"/>
<rect x="299.44" y="128.57" width="1.79" height="6.89" fill="#0f1f29"/>
<rect x="300.43" y="128.57" width="1.79" height="6.89" fill="#1e3f52"/>
<rect x="301.41" y="128.57" width="1.79" height="6.89" fill="#3c7ea3"/>
<rect x="302.4" y="128.57" width="1.79" height="6.89" fill="#22485d"/>
<rect x="303.39" y="128.57" width="1.79" height="6.89" fill="#387597"/>
<rect x="304.37" y="128.57" width="1.79" height="6.89" fill="#4da2d2"/>
<rect x="305.36" y="128.57" width="1.79" height="6.89" fill="#56b4e9"/>
<rect x="306.34" y="128.57" width="1.79" height="6.89" fill="#4794c0"/>
<rect x="307.33" y="128.57" width="1.79" height="6.89" fill="#3e82a9"/>
<rect x="308.31" y="128.57" width="0.99" height="6.89" fill="#4999c6"/>
<rect x="288.6" y="134.46" width="6.71" height="6.89" fill="#000000"/>
<rect x="294.51" y="134.46" width="1.79" height="6.89" fill="#020406"/>
<rect x="295.5" y="134.46" width="2.77" height="6.89" fill="#04090c"/>
<rect x="297.47" y="134.46" width="1.79" height="6.89" fill="#091217"/>
<rect x="298.46" y="134.46" width="1.79" height="6.89" fill="#0b161d"/>
<rect x="299.44" y="134.46" width="1.79" height="6.89" fill="#11242f"/>
<rect x="300.43" y="134.46" width="1.79" height="6.89" fill="#204457"/>
<rect x="301.41" y="134.46" width="1.79" height="6.89" fill="#2f6380"/>
<rect x="302.4" y="134.46" width="1.79" height="6.89" fill="#29566f"/>
<rect x="303.39" y="134.46" width="1.79" height="6.89" fill="#2d5e7a"/>
<rect x="304.37" y="134.46" width="2.77" height="6.89" fill="#56b4e9"/>
<rect x="306.34" y="134.46" width="1.79" height="6.89" fill="#4da2d2"/>
<rect x="307.33" y="134.46" width="1.79" height="6.89" fill="#3a7a9d"/>
<rect x="308.31" y="134.46" width="0.99" height="6.89" fill="#56b4e9"/>
<rect x="288.6" y="140.35" width="7.7" height="6.89" fill="#000000"/>
<rect x="295.5" y="140.35" width="2.77" height="6.89" fill="#020406"/>
<rect x="297.47" y="140.35" width="2.77" height="6.89" fill="#060e11"/>
<rect x="299.44" y="140.35" width="1.79" height="6.89" fill="#0f1f29"/>
<rect x="300.43" y="140.35" width="1.79" height="6.89" fill="#162d3a"/>
<rect x="301.41" y="140.35" width="1.79" height="6.89" fill="#275169"/>
<rect x="302.4" y="140.35" width="1.79" height="6.89" fill="#22485d"/>
<rect x="303.39" y="140.35" width="1.79" height="6.89" fill="#2b5a74"/>
<rect x="304.37" y="140.35" width="1.79" height="6.89" fill="#4999c6"/>
<rect x="305.36" y="140.35" width="1.79" height="6.89" fill="#56b4e9"/>
<rect x="306.34" y="140.35" width="1.79" height="6.89" fill="#54b0e3"/>
<rect x="307.33" y="140.35" width="1.79" height="6.89" fill="#4999c6"/>
<rect x="308.31" y="140.35" width="0.99" height="6.89" fill="#56b4e9"/>
<rect x="288.6" y="146.24" width="7.7" height="6.89" fill="#000000"/>
<rect x="295.5" y="146.24" width="1.79" height="6.89" fill="#020406"/>
<rect x="296.49" y="146.24" width="1.79" height="6.89" fill="#04090c"/>
<rect x="297.47" y="146.24" width="2.77" height="6.89" fill="#091217"/>
<rect x="299.44" y="146.24" width="1.79" height="6.89" fill="#0f1f29"/>
<rect x="300.43" y="146.24" width="1.79" height="6.89" fill="#204457"/>
<rect x="301.41" y="146.24" width="2.77" height="6.89" fill="#275169"/>
<rect x="303.39" y="146.24" width="1.79" height="6.89" fill="#2f6380"/>
<rect x="304.37" y="146.24" width="1.79" height="6.89" fill="#52abdd"/>
<rect x="305.36" y="146.24" width="2.77" height="6.89" fill="#56b4e9"/>
<rect x="307.33" y="146.24" width="1.79" height="6.89" fill="#4590ba"/>
<rect x="308.31" y="146.24" width="0.99" height="6.89" fill="#56b4e9"/>
<rect x="288.6" y="152.13" width="7.7" height="6.89" fill="#000000"/>
<rect x="295.5" y="152.13" width="2.77" height="6.89" fill="#04090c"/>
<rect x="297.47" y="152.13" width="1.79" height="6.89" fill="#0b161d"/>
<rect x="298.46" y="152.13" width="1.79" height="6.89" fill="#0d1b23"/>
<rect x="299.44" y="152.13" width="1.79" height="6.89" fill="#132834"/>
<rect x="300.43" y="152.13" width="1.79" height="6.89" fill="#22485d"/>
<rect x="301.41" y="152.13" width="1.79" height="6.89" fill="#29566f"/>
<rect x="302.4" y="152.13" width="1.79" height="6.89" fill="#2f6380"/>
<rect x="303.39" y="152.13" width="1.79" height="6.89" fill="#3a7a9d"/>
<rect x="304.37" y="152.13" width="1.79" height="6.89" fill="#4999c6"/>
<rect x="305.36" y="152.13" width="1.79" height="6.89" fill="#56b4e9"/>
<rect x="306.34" y="152.13" width="1.79" height="6.89" fill="#52abdd"/>
<rect x="307.33" y="152.13" width="1.79" height="6.89" fill="#346c8c"/>
<rect x="308.31" y="152.13" width="0.99" height="6.89" fill="#56b4e9"/>
<rect x="288.6" y="158.02" width="6.71" height="6.89" fill="#000000"/>
<rect x="294.51" y="158.02" width="3.76" height="6.89" fill="#020406"/>
<rect x="297.47" y="158.02" width="1.79" height="6.89" fill="#091217"/>
<rect x="298.46" y="158.02" width="1.79" height="6.89" fill="#0b161d"/>
<rect x="299.44" y="158.02" width="1.79" height="6.89" fill="#11242f"/>
<rect x="300.43" y="158.02" width="1.79" height="6.89" fill="#204457"/>
<rect x="301.41" y="158.02" width="1.79" height="6.89" fill="#387597"/>
<rect x="302.4" y="158.02" width="1.79" height="6.89" fill="#1e3f52"/>
<rect x="303.39" y="158.02" width="1.79" height="6.89" fill="#275169"/>
<rect x="304.37" y="158.02" width="1.79" height="6.89" fill="#3e82a9"/>
<rect x="305.36" y="158.02" width="1.79" height="6.89" fill="#56b4e9"/>
<rect x="306.34" y="158.02" width="1.79" height="6.89" fill="#438cb5"/>
<rect x="307.33" y="158.02" width="1.79" height="6.89" fill="#4590ba"/>
<rect x="308.31" y="158.02" width="0.99" height="6.89" fill="#4794c0"/>
<rect x="288.6" y="163.91" width="7.7" height="6.89" fill="#000000"/>
<rect x="295.5" y="163.91" width="2.77" height="6.89" fill="#020406"/>
<rect x="297.47" y="163.91" width="1.79" height="6.89" fill="#060e11"/>
<rect x="298.46" y="163.91" width="1.79" height="6.89" fill="#0b161d"/>
<rect x="299.44" y="163.91" width="1.79" height="6.89" fill="#0d1b23"/>
<rect x="300.43" y="163.91" width="1.79" height="6.89" fill="#22485d"/>
<rect x="301.41" y="163.91" width="1.79" height="6.89" fill="#3c7ea3"/>
<rect x="302.4" y="163.91" width="1.79" height="6.89" fill="#1c3a4c"/>
<rect x="303.39" y="163.91" width="1.79" height="6.89" fill="#2f6380"/>
<rect x="304.37" y="163.91" width="1.79" height="6.89" fill="#52abdd"/>
<rect x="305.36" y="163.91" width="1.79" height="6.89" fill="#56b4e9"/>
<rect x="306.34" y="163.91" width="1.79" height="6.89" fill="#4999c6"/>
<rect x="307.33" y="163.91" width="1.79" height="6.89" fill="#3a7a9d"/>
<rect x="308.31" y="163.91" width="0.99" height="6.89" fill="#52abdd"/>
<rect x="288.6" y="169.8" width="1.79" height="6.89" fill="#162d3a"/>
<rect x="289.59" y="169.8" width="1.79" height="6.89" fill="#132834"/>
<rect x="290.57" y="169.8" width="1.79" height="6.89" fill="#2f6380"/>
<rect x="291.56" y="169.8" width="1.79" height="6.89" fill="#1e3f52"/>
<rect x="292.54" y="169.8" width="1.79" height="6.89" fill="#3e82a9"/>
<rect x="293.53" y="169.8" width="1.79" height="6.89" fill="#4999c6"/>
<rect x="294.51" y="169.8" width="1.79" height="6.89" fill="#275169"/>
<rect x="295.5" y="169.8" width="1.79" height="6.89" fill="#54b0e3"/>
<rect x="296.49" y="169.8" width="1.79" height="6.89" fill="#316786"/>
<rect x="297.47" y="169.8" width="1.79" height="6.89" fill="#54b0e3"/>
<rect x="298.46" y="169.8" width="1.79" height="6.89" fill="#3a7a9d"/>
<rect x="299.44" y="169.8" width="1.79" height="6.89" fill="#2d5e7a"/>
<rect x="300.43" y="169.8" width="1.79" height="6.89" fill="#54b0e3"/>
<rect x="301.41" y="169.8" width="1.79" height="6.89" fill="#56b4e9"/>
<rect x="302.4" y="169.8" width="1.79" height="6.89" fill="#29566f"/>
<rect x="303.39" y="169.8" width="1.79" height="6.89" fill="#2d5e7a"/>
<rect x="304.37" y="169.8" width="1.79" height="6.89" fill="#50a6d8"/>
<rect x="305.36" y="169.8" width="1.79" height="6.89" fill="#56b4e9"/>
<rect x="306.34" y="169.8" width="1.79" height="6.89" fill="#4590ba"/>
<rect x="307.33" y="169.8" width="1.79" height="6.89" fill="#387597"/>
<rect x="308.31" y="169.8" width="0.99" height="6.89" fill="#56b4e9"/>
<rect x="288.6" y="175.69" width="4.74" height="5.89" fill="#000000"/>
<rect x="292.54" y="175.69" width="2.77" height="5.89" fill="#020406"/>
<rect x="294.51" y="175.69" width="1.79" height="5.89" fill="#04090c"/>
<rect x="295.5" y="175.69" width="1.79" height="5.89" fill="#0b161d"/>
<rect x="296.49" y="175.69" width="1.79" height="5.89" fill="#0f1f29"/>
<rect x="297.47" y="175.69" width="1.79" height="5.89" fill="#162d3a"/>
<rect x="298.46" y="175.69" width="1.79" height="5.89" fill="#183240"/>
<rect x="299.44" y="175.69" width="1.79" height="5.89" fill="#204457"/>
<rect x="300.43" y="175.69" width="1.79" height="5.89" fill="#438cb5"/>
<rect x="301.41" y="175.69" width="1.79" height="5.89" fill="#50a6d8"/>
<rect x="302.4" y="175.69" width="1.79" height="5.89" fill="#2f6380"/>
<rect x="303.39" y="175.69" width="1.79" height="5.89" fill="#387597"/>
<rect x="304.37" y="175.69" width="1.79" height="5.89" fill="#4590ba"/>
<rect x="305.36" y="175.69" width="1.79" height="5.89" fill="#4794c0"/>
<rect x="306.34" y="175.69" width="1.79" height="5.89" fill="#3c7ea3"/>
<rect x="307.33" y="175.69" width="1.79" height="5.89" fill="#50a6d8"/>
<rect x="308.31" y="175.69" width="0.99" height="5.89" fill="#56b4e9"/>
<rect x="311" y="52" width="9" height="129" fill="#000000"/>
<rect x="311" y="52" width="1.78" height="6.89" fill="#438cb5"/>
<rect x="311.98" y="52" width="1.78" height="6.89" fill="#4999c6"/>
<rect x="312.96" y="52" width="1.78" height="6.89" fill="#54b0e3"/>
<rect x="313.94" y="52" width="1.78" height="6.89" fill="#56b4e9"/>
<rect x="314.92" y="52" width="1.78" height="6.89" fill="#52abdd"/>
<rect x="315.9" y="52" width="2.76" height="6.89" fill="#56b4e9"/>
<rect x="317.86" y="52" width="1.78" height="6.89" fill="#4590ba"/>
<rect x="318.84" y="52" width="1.78" height="6.89" fill="#56b4e9"/>
<rect x="319.82" y="52" width="0.98" height="6.89" fill="#4087af"/>
<rect x="311" y="57.89" width="1.78" height="6.89" fill="#52abdd"/>
<rect x="311.98" y="57.89" width="1.78" height="6.89" fill="#4999c6"/>
<rect x="312.96" y="57.89" width="1.78" height="6.89" fill="#4087af"/>
<rect x="313.94" y="57.89" width="1.78" height="6.89" fill="#56b4e9"/>
<rect x="314.92" y="57.89" width="1.78" height="6.89" fill="#4da2d2"/>
<rect x="315.9" y="57.89" width="1.78" height="6.89" fill="#54b0e3"/>
<rect x="316.88" y="57.89" width="1.78" height="6.89" fill="#4087af"/>
<rect x="317.86" y="57.89" width="1.78" height="6.89" fill="#367092"/>
<rect x="318.84" y="57.89" width="1.78" height="6.89" fill="#56b4e9"/>
<rect x="319.82" y="57.89" width="0.98" height="6.89" fill="#54b0e3"/>
<rect x="311" y="63.78" width="1.78" height="6.89" fill="#56b4e9"/>
<rect x="311.98" y="63.78" width="1.78" height="6.89" fill="#4b9ecc"/>
<rect x="312.96" y="63.78" width="2.76" height="6.89" fill="#54b0e3"/>
<rect x="314.92" y="63.78" width="1.78" height="6.89" fill="#4b9ecc"/>
<rect x="315.9" y="63.78" width="1.78" height="6.89" fill="#54b0e3"/>
<rect x="316.88" y="63.78" width="1.78" height="6.89" fill="#52abdd"/>
<rect x="317.86" y="63.78" width="1.78" height="6.89" fill="#4794c0"/>
<rect x="318.84" y="63.78" width="1.78" height="6.89" fill="#54b0e3"/>
<rect x="319.82" y="63.78" width="0.98" height="6.89" fill="#56b4e9"/>
<rect x="311" y="69.67" width="1.78" height="6.89" fill="#56b4e9"/>
<rect x="311.98" y="69.67" width="1.78" height="6.89" fill="#4da2d2"/>
<rect x="312.96" y="69.67" width="2.76" height="6.89" fill="#56b4e9"/>
<rect x="314.92" y="69.67" width="1.78" height="6.89" fill="#50a6d8"/>
<rect x="315.9" y="69.67" width="1.78" height="6.89" fill="#56b4e9"/>
<rect x="316.88" y="69.67" width="1.78" height="6.89" fill="#54b0e3"/>
<rect x="317.86" y="69.67" width="1.78" height="6.89" fill="#4794c0"/>
<rect x="318.84" y="69.67" width="1.78" height="6.89" fill="#54b0e3"/>
<rect x="319.82" y="69.67" width="0.98" height="6.89" fill="#56b4e9"/>
<rect x="311" y="75.56" width="1.78" height="6.89" fill="#54b0e3"/>
<rect x="311.98" y="75.56" width="1.78" height="6.89" fill="#4da2d2"/>
<rect x="312.96" y="75.56" width="1.78" height="6.89" fill="#3e82a9"/>
<rect x="313.94" y="75.56" width="1.78" height="6.89" fill="#54b0e3"/>
<rect x="314.92" y="75.56" width="1.78" height="6.89" fill="#50a6d8"/>
<rect x="315.9" y="75.56" width="1.78" height="6.89" fill="#56b4e9"/>
<rect x="316.88" y="75.56" width="1.78" height="6.89" fill="#3e82a9"/>
<rect x="317.86" y="75.56" width="1.78" height="6.89" fill="#4b9ecc"/>
<rect x="318.84" y="75.56" width="1.78" height="6.89" fill="#56b4e9"/>
<rect x="319.82" y="75.56" width="0.98" height="6.89" fill="#52abdd"/>
<rect x="311" y="81.45" width="1.78" height="6.89" fill="#56b4e9"/>
<rect x="311.98" y="81.45" width="1.78" height="6.89" fill="#4da2d2"/>
<rect x="312.96" y="81.45" width="2.76" height="6.89" fill="#56b4e9"/>
<rect x="314.92" y="81.45" width="1.78" height="6.89" fill="#4da2d2"/>
<rect x="315.9" y="81.45" width="1.78" height="6.89" fill="#52abdd"/>
<rect x="316.88" y="81.45" width="1.78" height="6.89" fill="#54b0e3"/>
<rect x="317.86" y="81.45" width="1.78" height="6.89" fill="#4999c6"/>
<rect x="318.84" y="81.45" width="1.96" height="6.89" fill="#56b4e9"/>
<rect x="311" y="87.34" width="1.78" height="6.89" fill="#56b4e9"/>
<rect x="311.98" y="87.34" width="1.78" height="6.89" fill="#4da2d2"/>
<rect x="312.96" y="87.34" width="2.76" height="6.89" fill="#56b4e9"/>
<rect x="314.92" y="87.34" width="1.78" height="6.89" fill="#50a6d8"/>
<rect x="315.9" y="87.34" width="1.78" height="6.89" fill="#52abdd"/>
<rect x="316.88" y="87.34" width="1.78" height="6.89" fill="#56b4e9"/>
<rect x="317.86" y="87.34" width="1.78" height="6.89" fill="#4794c0"/>
<rect x="318.84" y="87.34" width="1.96" height="6.89" fill="#56b4e9"/>
<rect x="311" y="93.23" width="1.78" height="6.89" fill="#54b0e3"/>
<rect x="311.98" y="93.23" width="1.78" height="6.89" fill="#4999c6"/>
<rect x="312.96" y="93.23" width="1.78" height="6.89" fill="#54b0e3"/>
<rect x="313.94" y="93.23" width="1.78" height="6.89" fill="#56b4e9"/>
<rect x="314.92" y="93.23" width="3.74" height="6.89" fill="#52abdd"/>
<rect x="317.86" y="93.23" width="1.78" height="6.89" fill="#4999c6"/>
<rect x="318.84" y="93.23" width="1.96" height="6.89" fill="#56b4e9"/>
<rect x="311" y="99.12" width="1.78" height="6.89" fill="#54b0e3"/>
<rect x="311.98" y="99.12" width="1.78" height="6.89" fill="#4da2d2"/>
<rect x="312.96" y="99.12" width="1.78" height="6.89" fill="#52abdd"/>
<rect x="313.94" y="99.12" width="1.78" height="6.89" fill="#54b0e3"/>
<rect x="314.92" y="99.12" width="1.78" height="6.89" fill="#50a6d8"/>
<rect x="315.9" y="99.12" width="2.76" height="6.89" fill="#56b4e9"/>
<rect x="317.86" y="99.12" width="1.78" height="6.89" fill="#4b9ecc"/>
<rect x="318.84" y="99.12" width="1.78" height="6.89" fill="#56b4e9"/>
<rect x="319.82" y="99.12" width="0.98" height="6.89" fill="#54b0e3"/>
<rect x="311" y="105.01" width="1.78" height="6.89" fill="#54b0e3"/>
<rect x="311.98" y="105.01" width="1.78" height="6.89" fill="#50a6d8"/>
<rect x="312.96" y="105.01" width="1.78" height="6.89" fill="#56b4e9"/>
<rect x="313.94" y="105.01" width="1.78" height="6.89" fill="#54b0e3"/>
<rect x="314.92" y="105.01" width="1.78" height="6.89" fill="#4b9ecc"/>
<rect x="315.9" y="105.01" width="2.76" height="6.89" fill="#56b4e9"/>
<rect x="317.86" y="105.01" width="1.78" height="6.89" fill="#4999c6"/>
<rect x="318.84" y="105.01" width="1.78" height="6.89" fill="#54b0e3"/>
<rect x="319.82" y="105.01" width="0.98" height="6.89" fill="#56b4e9"/>
<rect x="311" y="110.9" width="1.78" height="6.89" fill="#56b4e9"/>
<rect x="311.98" y="110.9" width="1.78" height="6.89" fill="#4999c6"/>
<rect x="312.96" y="110.9" width="1.78" height="6.89" fill="#52abdd"/>
<rect x="313.94" y="110.9" width="1.78" height="6.89" fill="#54b0e3"/>
<rect x="314.92" y="110.9" width="1.78" height="6.89" fill="#50a6d8"/>
<rect x="315.9" y="110.9" width="1.78" height="6.89" fill="#56b4e9"/>
<rect x="316.88" y="110.9" width="1.78" height="6.89" fill="#54b0e3"/>
<rect x="317.86" y="110.9" width="1.78" height="6.89" fill="#4b9ecc"/>
<rect x="318.84" y="110.9" width="1.96" height="6.89" fill="#56b4e9"/>
<rect x="311" y="116.79" width="1.78" height="6.89" fill="#54b0e3"/>
<rect x="311.98" y="116.79" width="1.78" height="6.89" fill="#50a6d8"/>
<rect x="312.96" y="116.79" width="1.78" height="6.89" fill="#54b0e3"/>
<rect x="313.94" y="116.79" width="1.78" height="6.89" fill="#56b4e9"/>
<rect x="314.92" y="116.79" width="1.78" height="6.89" fill="#4da2d2"/>
<rect x="315.9" y="116.79" width="1.78" height="6.89" fill="#54b0e3"/>
<rect x="316.88" y="116.79" width="1.78" height="6.89" fill="#56b4e9"/>
<rect x="317.86" y="116.79" width="1.78" height="6.89" fill="#4794c0"/>
<rect x="318.84" y="116.79" width="1.96" height="6.89" fill="#56b4e9"/>
<rect x="311" y="122.68" width="1.78" height="6.89" fill="#54b0e3"/>
<rect x="311.98" y="122.68" width="1.78" height="6.89" fill="#4999c6"/>
<rect x="312.96" y="122.68" width="2.76" height="6.89" fill="#56b4e9"/>
<rect x="314.92" y="122.68" width="1.78" height="6.89" fill="#52abdd"/>
<rect x="315.9" y="122.68" width="1.78" height="6.89" fill="#54b0e3"/>
<rect x="316.88" y="122.68" width="1.78" height="6.89" fill="#56b4e9"/>
<rect x="317.86" y="122.68" width="1.78" height="6.89" fill="#4794c0"/>
<rect x="318.84" y="122.68" width="1.78" height="6.89" fill="#56b4e9"/>
<rect x="319.82" y="122.68" width="0.98" height="6.89" fill="#54b0e3"/>
<rect x="311" y="128.57" width="1.78" height="6.89" fill="#52abdd"/>
<rect x="311.98" y="128.57" width="1.78" height="6.89" fill="#4999c6"/>
<rect x="312.96" y="128.57" width="2.76" height="6.89" fill="#56b4e9"/>
<rect x="314.92" y="128.57" width="1.78" height="6.89" fill="#52abdd"/>
<rect x="315.9" y="128.57" width="2.76" height="6.89" fill="#56b4e9"/>
<rect x="317.86" y="128.57" width="1.78" height="6.89" fill="#4b9ecc"/>
<rect x="318.84" y="128.57" width="1.96" height="6.89" fill="#54b0e3"/>
<rect x="311" y="134.46" width="1.78" height="6.89" fill="#56b4e9"/>
<rect x="311.98" y="134.46" width="1.78" height="6.89" fill="#4da2d2"/>
<rect x="312.96" y="134.46" width="1.78" height="6.89" fill="#52abdd"/>
<rect x="313.94" y="134.46" width="1.78" height="6.89" fill="#56b4e9"/>
<rect x="314.92" y="134.46" width="1.78" height="6.89" fill="#4da2d2"/>
<rect x="315.9" y="134.46" width="2.76" height="6.89" fill="#54b0e3"/>
<rect x="317.86" y="134.46" width="1.78" height="6.89" fill="#4794c0"/>
<rect x="318.84" y="134.46" width="1.78" height="6.89" fill="#52abdd"/>
<rect x="319.82" y="134.46" width="0.98" height="6.89" fill="#54b0e3"/>
<rect x="311" y="140.35" width="1.78" height="6.89" fill="#54b0e3"/>
<rect x="311.98" y="140.35" width="1.78" height="6.89" fill="#50a6d8"/>
<rect x="312.96" y="140.35" width="1.78" height="6.89" fill="#52abdd"/>
<rect x="313.94" y="140.35" width="1.78" height="6.89" fill="#56b4e9"/>
<rect x="314.92" y="140.35" width="1.78" height="6.89" fill="#4da2d2"/>
<rect x="315.9" y="140.35" width="1.78" height="6.89" fill="#54b0e3"/>
<rect x="316.88" y="140.35" width="1.78" height="6.89" fill="#56b4e9"/>
<rect x="317.86" y="140.35" width="1.78" height="6.89" fill="#4b9ecc"/>
<rect x="318.84" y="140.35" width="1.78" height="6.89" fill="#56b4e9"/>
<rect x="319.82" y="140.35" width="0.98" height="6.89" fill="#52abdd"/>
<rect x="311" y="146.24" width="1.78" height="6.89" fill="#56b4e9"/>
<rect x="311.98" y="146.24" width="1.78" height="6.89" fill="#4b9ecc"/>
<rect x="312.96" y="146.24" width="1.78" height="6.89" fill="#56b4e9"/>
<rect x="313.94" y="146.24" width="1.78" height="6.89" fill="#54b0e3"/>
<rect x="314.92" y="146.24" width="1.78" height="6.89" fill="#4da2d2"/>
<rect x="315.9" y="146.24" width="1.78" height="6.89" fill="#56b4e9"/>
<rect x="316.88" y="146.24" width="1.78" height="6.89" fill="#52abdd"/>
<rect x="317.86" y="146.24" width="1.78" height="6.89" fill="#4999c6"/>
<rect x="318.84" y="146.24" width="1.96" height="6.89" fill="#56b4e9"/>
<rect x="311" y="152.13" width="1.78" height="6.89" fill="#52abdd"/>
<rect x="311.98" y="152.13" width="1.78" height="6.89" fill="#4999c6"/>
<rect x="312.96" y="152.13" width="1.78" height="6.89" fill="#52abdd"/>
<rect x="313.94" y="152.13" width="1.78" height="6.89" fill="#56b4e9"/>
<rect x="314.92" y="152.13" width="1.78" height="6.89" fill="#4da2d2"/>
<rect x="315.9" y="152.13" width="2.76" height="6.89" fill="#56b4e9"/>
<rect x="317.86" y="152.13" width="1.78" height="6.89" fill="#4794c0"/>
<rect x="318.84" y="152.13" width="1.78" height="6.89" fill="#54b0e3"/>
<rect x="319.82" y="152.13" width="0.98" height="6.89" fill="#56b4e9"/>
<rect x="311" y="158.02" width="1.78" height="6.89" fill="#56b4e9"/>
<rect x="311.98" y="158.02" width="1.78" height="6.89" fill="#4999c6"/>
<rect x="312.96" y="158.02" width="1.78" height="6.89" fill="#56b4e9"/>
<rect x="313.94" y="158.02" width="1.78" height="6.89" fill="#54b0e3"/>
<rect x="314.92" y="158.02" width="1.78" height="6.89" fill="#4da2d2"/>
<rect x="315.9" y="158.02" width="1.78" height="6.89" fill="#52abdd"/>
<rect x="316.88" y="158.02" width="1.78" height="6.89" fill="#56b4e9"/>
<rect x="317.86" y="158.02" width="1.78" height="6.89" fill="#4b9ecc"/>
<rect x="318.84" y="158.02" width="1.96" height="6.89" fill="#56b4e9"/>
<rect x="311" y="163.91" width="1.78" height="6.89" fill="#52abdd"/>
<rect x="311.98" y="163.91" width="1.78" height="6.89" fill="#4999c6"/>
<rect x="312.96" y="163.91" width="2.76" height="6.89" fill="#56b4e9"/>
<rect x="314.92" y="163.91" width="1.78" height="6.89" fill="#52abdd"/>
<rect x="315.9" y="163.91" width="1.78" height="6.89" fill="#56b4e9"/>
<rect x="316.88" y="163.91" width="1.78" height="6.89" fill="#54b0e3"/>
<rect x="317.86" y="163.91" width="1.78" height="6.89" fill="#4999c6"/>
<rect x="318.84" y="163.91" width="1.96" height="6.89" fill="#56b4e9"/>
<rect x="311" y="169.8" width="1.78" height="6.89" fill="#54b0e3"/>
<rect x="311.98" y="169.8" width="1.78" height="6.89" fill="#4da2d2"/>
<rect x="312.96" y="169.8" width="2.76" height="6.89" fill="#56b4e9"/>
<rect x="314.92" y="169.8" width="1.78" height="6.89" fill="#52abdd"/>
<rect x="315.9" y="169.8" width="1.78" height="6.89" fill="#56b4e9"/>
<rect x="316.88" y="169.8" width="1.78" height="6.89" fill="#54b0e3"/>
<rect x="317.86" y="169.8" width="1.78" height="6.89" fill="#4794c0"/>
<rect x="318.84" y="169.8" width="1.78" height="6.89" fill="#54b0e3"/>
<rect x="319.82" y="169.8" width="0.98" height="6.89" fill="#56b4e9"/>
<rect x="311" y="175.69" width="1.78" height="5.89" fill="#52abdd"/>
<rect x="311.98" y="175.69" width="1.78" height="5.89" fill="#4999c6"/>
<rect x="312.96" y="175.69" width="1.78" height="5.89" fill="#56b4e9"/>
<rect x="313.94" y="175.69" width="1.78" height="5.89" fill="#54b0e3"/>
<rect x="314.92" y="175.69" width="1.78" height="5.89" fill="#4b9ecc"/>
<rect x="315.9" y="175.69" width="1.78" height="5.89" fill="#52abdd"/>
<rect x="316.88" y="175.69" width="1.78" height="5.89" fill="#56b4e9"/>
<rect x="317.86" y="175.69" width="1.78" height="5.89" fill="#4794c0"/>
<rect x="318.84" y="175.69" width="1.96" height="5.89" fill="#56b4e9"/>
<text transform="translate(211.6 44.6) rotate(-28)" font-size="9.7">Core</text>
<text transform="translate(251.8 45.1) rotate(-28)" font-size="9.7">Softcore</text>
<text transform="translate(290.6 44.4) rotate(-28)" font-size="9.7">Shell</text>
<text transform="translate(311.6 44.6) rotate(-28)" font-size="9.7">Cloud</text>
<text transform="translate(47.1 114.8) rotate(-90) scale(1 1.04)" font-size="9.5" text-anchor="middle">Isolates</text>
<text x="237" y="189.5" font-size="9.5" text-anchor="end">7,845</text>
<text x="274" y="189.5" font-size="9.5" text-anchor="end">1,448</text>
<text x="300" y="189.5" font-size="9.5" text-anchor="end">793</text>
<text x="322" y="189.5" font-size="9.5" text-anchor="end">352</text>
<rect x="50.5" y="193.7" width="9.9" height="9.9" fill="#000000"/>
<text x="61.6" y="202.1" font-size="9.5">Present</text>
<rect x="100.1" y="193.7" width="9.9" height="9.9" fill="#56B4E9"/>
<text x="111.3" y="202.1" font-size="9.5">Absent</text>
<path d="M321.2 54.95H330.4" stroke="#111111" stroke-width="0.75" fill="none"/>
<path d="M321.2 60.84H329.6" stroke="#111111" stroke-width="0.75" fill="none"/>
<path d="M330.1 54.95V92.3" stroke="#808080" stroke-width="1.5" fill="none"/>
<path d="M328.4 92.3H330.4" stroke="#808080" stroke-width="0.8" fill="none"/>
<path d="M321.2 66.72H326.8V72.61H321.2" stroke="#111111" stroke-width="0.75" fill="none"/>
<path d="M326.8 69.67H328.4" stroke="#111111" stroke-width="0.75" fill="none"/>
<path d="M321.2 78.5H326" stroke="#111111" stroke-width="0.75" fill="none"/>
<path d="M321.2 84.39H325.89" stroke="#111111" stroke-width="0.75" fill="none"/>
<path d="M321.2 90.28H325.79" stroke="#111111" stroke-width="0.75" fill="none"/>
<path d="M321.2 96.17H325.68" stroke="#111111" stroke-width="0.75" fill="none"/>
<path d="M321.2 102.06H325.57" stroke="#111111" stroke-width="0.75" fill="none"/>
<path d="M321.2 107.95H325.47" stroke="#111111" stroke-width="0.75" fill="none"/>
<path d="M321.2 113.84H325.36" stroke="#111111" stroke-width="0.75" fill="none"/>
<path d="M321.2 119.73H325.25" stroke="#111111" stroke-width="0.75" fill="none"/>
<path d="M321.2 125.62H325.15" stroke="#111111" stroke-width="0.75" fill="none"/>
<path d="M321.2 131.51H325.04" stroke="#111111" stroke-width="0.75" fill="none"/>
<path d="M321.2 137.41H324.93" stroke="#111111" stroke-width="0.75" fill="none"/>
<path d="M321.2 143.3H324.83" stroke="#111111" stroke-width="0.75" fill="none"/>
<path d="M321.2 149.19H324.72" stroke="#111111" stroke-width="0.75" fill="none"/>
<path d="M321.2 155.07H324.61" stroke="#111111" stroke-width="0.75" fill="none"/>
<path d="M321.2 160.96H324.51" stroke="#111111" stroke-width="0.75" fill="none"/>
<path d="M321.2 166.85H324.4" stroke="#111111" stroke-width="0.75" fill="none"/>
<path d="M326 78.5L325.89 84.39L325.79 90.28L325.68 96.17L325.57 102.06L325.47 107.95L325.36 113.84L325.25 119.73L325.15 125.62L325.04 131.51L324.93 137.41L324.83 143.3L324.72 149.19L324.61 155.07L324.51 160.96L324.4 166.85" stroke="#111111" stroke-width="0.75" fill="none"/>
<path d="M326 77H328.4" stroke="#111111" stroke-width="0.75" fill="none"/>
<path d="M321.2 172.75H327.2V178.63H321.2" stroke="#111111" stroke-width="0.75" fill="none"/>
<path d="M327.2 175.69H328.4" stroke="#111111" stroke-width="0.75" fill="none"/>
<path d="M328.4 69.67V175.69" stroke="#111111" stroke-width="0.9" fill="none"/>
<rect x="397" y="48" width="128.7" height="3" fill="#0072B2"/>
<rect x="527" y="48" width="25.1" height="3" fill="#D55E00"/>
<rect x="554" y="48" width="69.7" height="3" fill="#009E73"/>
<rect x="626.1" y="48" width="41.3" height="3" fill="#CC79A7"/>
<rect x="397" y="52" width="129" height="129.58" fill="#000000"/>
<rect x="527" y="52" width="25" height="129" fill="#000000"/>
<path d="M527 52H552V57.89H527ZM527 57.89H552V63.78H527ZM527 63.78H532.56V69.67H527ZM535.33 63.78H552V69.67H535.33ZM527 69.67H552V75.56H527ZM527 75.56H552V81.45H527ZM527 81.45H552V87.34H527ZM527 87.34H552V93.23H527ZM527 93.23H552V99.12H527ZM527 99.12H552V105.01H527ZM527 105.01H552V110.9H527ZM527 110.9H552V116.79H527ZM527 116.79H552V122.68H527ZM527 122.68H552V128.57H527ZM527 128.57H552V134.46H527ZM527 134.46H552V140.35H527ZM527 140.35H535.33V146.24H527ZM538.11 140.35H552V146.24H538.11ZM527 146.24H549.22V152.13H527ZM527 152.13H552V158.02H527ZM529.78 158.02H546.44V163.91H529.78ZM549.22 158.02H552V163.91H549.22ZM527 163.91H538.11V169.8H527ZM540.89 163.91H543.67V169.8H540.89ZM546.44 163.91H552V169.8H546.44ZM527 169.8H529.78V175.69H527ZM532.56 169.8H552V175.69H532.56ZM527 175.69H540.89V181.58H527ZM543.67 175.69H552V181.58H543.67Z" fill="#000000"/>
<path d="M532.56 63.78H535.33V69.67H532.56ZM535.33 140.35H538.11V146.24H535.33ZM549.22 146.24H552V152.13H549.22ZM527 158.02H529.78V163.91H527ZM546.44 158.02H549.22V163.91H546.44ZM538.11 163.91H540.89V169.8H538.11ZM543.67 163.91H546.44V169.8H543.67ZM529.78 169.8H532.56V175.69H529.78ZM540.89 175.69H543.67V181.58H540.89Z" fill="#56B4E9"/>
<rect x="554" y="52" width="70" height="129" fill="#000000"/>
<path d="M553.8 52H556.62V57.89H553.8ZM562.25 52H565.06V57.89H562.25ZM567.88 52H584.78V57.89H567.88ZM587.59 52H601.67V57.89H587.59ZM553.8 57.89H565.06V63.78H553.8ZM567.88 57.89H587.59V63.78H567.88ZM590.41 57.89H593.22V63.78H590.41ZM596.04 57.89H607.3V63.78H596.04ZM612.94 57.89H615.75V63.78H612.94ZM621.38 57.89H624.2V63.78H621.38ZM553.8 63.78H556.62V69.67H553.8ZM559.43 63.78H584.78V69.67H559.43ZM590.41 63.78H598.86V69.67H590.41ZM601.67 63.78H607.3V69.67H601.67ZM553.8 69.67H556.62V75.56H553.8ZM559.43 69.67H567.88V75.56H559.43ZM576.33 69.67H579.14V75.56H576.33ZM584.78 69.67H596.04V75.56H584.78ZM598.86 69.67H607.3V75.56H598.86ZM553.8 75.56H567.88V81.45H553.8ZM576.33 75.56H579.14V81.45H576.33ZM584.78 75.56H596.04V81.45H584.78ZM598.86 75.56H607.3V81.45H598.86ZM553.8 81.45H556.62V87.34H553.8ZM559.43 81.45H570.7V87.34H559.43ZM573.51 81.45H593.22V87.34H573.51ZM598.86 81.45H610.12V87.34H598.86ZM553.8 87.34H556.62V93.23H553.8ZM559.43 87.34H570.7V93.23H559.43ZM573.51 87.34H590.41V93.23H573.51ZM598.86 87.34H610.12V93.23H598.86ZM553.8 93.23H570.7V99.12H553.8ZM573.51 93.23H596.04V99.12H573.51ZM598.86 93.23H607.3V99.12H598.86ZM553.8 99.12H607.3V105.01H553.8ZM553.8 105.01H570.7V110.9H553.8ZM573.51 105.01H607.3V110.9H573.51ZM553.8 110.9H570.7V116.79H553.8ZM573.51 110.9H596.04V116.79H573.51ZM598.86 110.9H607.3V116.79H598.86ZM610.12 110.9H612.94V116.79H610.12ZM553.8 116.79H570.7V122.68H553.8ZM573.51 116.79H596.04V122.68H573.51ZM598.86 116.79H607.3V122.68H598.86ZM565.06 122.68H576.33V128.57H565.06ZM579.14 122.68H598.86V128.57H579.14ZM601.67 122.68H610.12V128.57H601.67ZM565.06 128.57H570.7V134.46H565.06ZM573.51 128.57H576.33V134.46H573.51ZM579.14 128.57H596.04V134.46H579.14ZM598.86 128.57H607.3V134.46H598.86ZM565.06 134.46H570.7V140.35H565.06ZM573.51 134.46H576.33V140.35H573.51ZM579.14 134.46H596.04V140.35H579.14ZM598.86 134.46H607.3V140.35H598.86ZM553.8 140.35H559.43V146.24H553.8ZM562.25 140.35H598.86V146.24H562.25ZM601.67 140.35H610.12V146.24H601.67ZM553.8 146.24H559.43V152.13H553.8ZM562.25 146.24H598.86V152.13H562.25ZM601.67 146.24H604.49V152.13H601.67ZM607.3 146.24H610.12V152.13H607.3ZM553.8 152.13H556.62V158.02H553.8ZM562.25 152.13H610.12V158.02H562.25ZM553.8 158.02H596.04V163.91H553.8ZM598.86 158.02H610.12V163.91H598.86ZM553.8 163.91H559.43V169.8H553.8ZM562.25 163.91H584.78V169.8H562.25ZM587.59 163.91H596.04V169.8H587.59ZM598.86 163.91H607.3V169.8H598.86ZM553.8 169.8H556.62V175.69H553.8ZM559.43 169.8H570.7V175.69H559.43ZM573.51 169.8H596.04V175.69H573.51ZM598.86 169.8H601.67V175.69H598.86ZM604.49 169.8H607.3V175.69H604.49ZM610.12 169.8H621.38V175.69H610.12ZM553.8 175.69H570.7V181.58H553.8ZM573.51 175.69H587.59V181.58H573.51ZM593.22 175.69H598.86V181.58H593.22ZM604.49 175.69H607.3V181.58H604.49ZM610.12 175.69H624.2V181.58H610.12Z" fill="#000000"/>
<path d="M556.62 52H562.25V57.89H556.62ZM565.06 52H567.88V57.89H565.06ZM584.78 52H587.59V57.89H584.78ZM601.67 52H624.2V57.89H601.67ZM565.06 57.89H567.88V63.78H565.06ZM587.59 57.89H590.41V63.78H587.59ZM593.22 57.89H596.04V63.78H593.22ZM607.3 57.89H612.94V63.78H607.3ZM615.75 57.89H621.38V63.78H615.75ZM556.62 63.78H559.43V69.67H556.62ZM584.78 63.78H590.41V69.67H584.78ZM598.86 63.78H601.67V69.67H598.86ZM607.3 63.78H624.2V69.67H607.3ZM556.62 69.67H559.43V75.56H556.62ZM567.88 69.67H576.33V75.56H567.88ZM579.14 69.67H584.78V75.56H579.14ZM596.04 69.67H598.86V75.56H596.04ZM607.3 69.67H624.2V75.56H607.3ZM567.88 75.56H576.33V81.45H567.88ZM579.14 75.56H584.78V81.45H579.14ZM596.04 75.56H598.86V81.45H596.04ZM607.3 75.56H624.2V81.45H607.3ZM556.62 81.45H559.43V87.34H556.62ZM570.7 81.45H573.51V87.34H570.7ZM593.22 81.45H598.86V87.34H593.22ZM610.12 81.45H624.2V87.34H610.12ZM556.62 87.34H559.43V93.23H556.62ZM570.7 87.34H573.51V93.23H570.7ZM590.41 87.34H598.86V93.23H590.41ZM610.12 87.34H624.2V93.23H610.12ZM570.7 93.23H573.51V99.12H570.7ZM596.04 93.23H598.86V99.12H596.04ZM607.3 93.23H624.2V99.12H607.3ZM607.3 99.12H624.2V105.01H607.3ZM570.7 105.01H573.51V110.9H570.7ZM607.3 105.01H624.2V110.9H607.3ZM570.7 110.9H573.51V116.79H570.7ZM596.04 110.9H598.86V116.79H596.04ZM607.3 110.9H610.12V116.79H607.3ZM612.94 110.9H624.2V116.79H612.94ZM570.7 116.79H573.51V122.68H570.7ZM596.04 116.79H598.86V122.68H596.04ZM607.3 116.79H624.2V122.68H607.3ZM553.8 122.68H565.06V128.57H553.8ZM576.33 122.68H579.14V128.57H576.33ZM598.86 122.68H601.67V128.57H598.86ZM610.12 122.68H624.2V128.57H610.12ZM553.8 128.57H565.06V134.46H553.8ZM570.7 128.57H573.51V134.46H570.7ZM576.33 128.57H579.14V134.46H576.33ZM596.04 128.57H598.86V134.46H596.04ZM607.3 128.57H624.2V134.46H607.3ZM553.8 134.46H565.06V140.35H553.8ZM570.7 134.46H573.51V140.35H570.7ZM576.33 134.46H579.14V140.35H576.33ZM596.04 134.46H598.86V140.35H596.04ZM607.3 134.46H624.2V140.35H607.3ZM559.43 140.35H562.25V146.24H559.43ZM598.86 140.35H601.67V146.24H598.86ZM610.12 140.35H624.2V146.24H610.12ZM559.43 146.24H562.25V152.13H559.43ZM598.86 146.24H601.67V152.13H598.86ZM604.49 146.24H607.3V152.13H604.49ZM610.12 146.24H624.2V152.13H610.12ZM556.62 152.13H562.25V158.02H556.62ZM610.12 152.13H624.2V158.02H610.12ZM596.04 158.02H598.86V163.91H596.04ZM610.12 158.02H624.2V163.91H610.12ZM559.43 163.91H562.25V169.8H559.43ZM584.78 163.91H587.59V169.8H584.78ZM596.04 163.91H598.86V169.8H596.04ZM607.3 163.91H624.2V169.8H607.3ZM556.62 169.8H559.43V175.69H556.62ZM570.7 169.8H573.51V175.69H570.7ZM596.04 169.8H598.86V175.69H596.04ZM601.67 169.8H604.49V175.69H601.67ZM607.3 169.8H610.12V175.69H607.3ZM621.38 169.8H624.2V175.69H621.38ZM570.7 175.69H573.51V181.58H570.7ZM587.59 175.69H593.22V181.58H587.59ZM598.86 175.69H604.49V181.58H598.86ZM607.3 175.69H610.12V181.58H607.3Z" fill="#56B4E9"/>
<rect x="626" y="52" width="41" height="129" fill="#56B4E9"/>
<path d="M625.7 52H647.99V57.89H625.7ZM653.57 52H667.5V57.89H653.57ZM625.7 57.89H667.5V63.78H625.7ZM625.7 63.78H667.5V69.67H625.7ZM625.7 69.67H667.5V75.56H625.7ZM625.7 75.56H667.5V81.45H625.7ZM625.7 81.45H667.5V87.34H625.7ZM625.7 87.34H667.5V93.23H625.7ZM625.7 93.23H639.63V99.12H625.7ZM647.99 93.23H667.5V99.12H647.99ZM625.7 99.12H667.5V105.01H625.7ZM625.7 105.01H667.5V110.9H625.7ZM625.7 110.9H667.5V116.79H625.7ZM625.7 116.79H667.5V122.68H625.7ZM625.7 122.68H667.5V128.57H625.7ZM625.7 128.57H667.5V134.46H625.7ZM625.7 134.46H667.5V140.35H625.7ZM625.7 140.35H653.57V146.24H625.7ZM659.14 140.35H667.5V146.24H659.14ZM625.7 146.24H667.5V152.13H625.7ZM625.7 152.13H667.5V158.02H625.7ZM625.7 158.02H634.06V163.91H625.7ZM639.63 158.02H667.5V163.91H639.63ZM625.7 163.91H667.5V169.8H625.7ZM634.06 169.8H667.5V175.69H634.06ZM625.7 175.69H659.14V181.58H625.7Z" fill="#56B4E9"/>
<path d="M647.99 52H653.57V57.89H647.99ZM639.63 93.23H647.99V99.12H639.63ZM653.57 140.35H659.14V146.24H653.57ZM634.06 158.02H639.63V163.91H634.06ZM625.7 169.8H634.06V175.69H625.7ZM659.14 175.69H667.5V181.58H659.14Z" fill="#000000"/>
<text transform="translate(477 45) rotate(-28)" font-size="9.7">Core</text>
<text transform="translate(525.5 45.4) rotate(-28)" font-size="9.7">Softcore</text>
<text transform="translate(580.8 45.3) rotate(-28)" font-size="9.7">Shell</text>
<text transform="translate(637.1 46) rotate(-28)" font-size="9.7">Cloud</text>
<text transform="translate(393.9 115.3) rotate(-90) scale(1 1.04)" font-size="9.5" text-anchor="middle">Isolates</text>
<text x="485.8" y="189.5" font-size="9.5" text-anchor="middle">46</text>
<text x="538.8" y="189.5" font-size="9.5" text-anchor="middle">9</text>
<text x="588.8" y="189.5" font-size="9.5" text-anchor="middle">25</text>
<text x="646.8" y="189.5" font-size="9.5" text-anchor="middle">15</text>
<rect x="397.3" y="193.9" width="9.9" height="9.9" fill="#000000"/>
<text x="408.5" y="202.2" font-size="9.5">Present</text>
<rect x="447" y="193.9" width="9.9" height="9.9" fill="#56B4E9"/>
<text x="458.3" y="202.2" font-size="9.5">Absent</text>
<line x1="51.45" y1="214.2" x2="51.45" y2="354" stroke="#1e1e1e" stroke-width="1.3"/>
<line x1="47.5" y1="348.3" x2="51.45" y2="348.3" stroke="#1e1e1e" stroke-width="1.1"/>
<text transform="translate(45.9 351.7) scale(1 1.1)" font-size="9.6" text-anchor="end">0</text>
<line x1="47.5" y1="315.9" x2="51.45" y2="315.9" stroke="#1e1e1e" stroke-width="1.1"/>
<text transform="translate(45.9 319.3) scale(1 1.1)" font-size="9.6" text-anchor="end">3</text>
<line x1="47.5" y1="283.5" x2="51.45" y2="283.5" stroke="#1e1e1e" stroke-width="1.1"/>
<text transform="translate(45.9 286.9) scale(1 1.1)" font-size="9.6" text-anchor="end">6</text>
<line x1="47.5" y1="251.1" x2="51.45" y2="251.1" stroke="#1e1e1e" stroke-width="1.1"/>
<text transform="translate(45.9 254.5) scale(1 1.1)" font-size="9.6" text-anchor="end">9</text>
<line x1="47.5" y1="218.7" x2="51.45" y2="218.7" stroke="#1e1e1e" stroke-width="1.1"/>
<text transform="translate(45.9 222.1) scale(1 1.1)" font-size="9.6" text-anchor="end">12</text>
<line x1="50.8" y1="353.4" x2="323.9" y2="353.4" stroke="#1e1e1e" stroke-width="1.3"/>
<line x1="53.7" y1="353.4" x2="53.7" y2="357.2" stroke="#1e1e1e" stroke-width="1.1"/>
<text transform="translate(53.7 367) scale(1 1.1)" font-size="9.6" text-anchor="middle">0</text>
<line x1="111.95" y1="353.4" x2="111.95" y2="357.2" stroke="#1e1e1e" stroke-width="1.1"/>
<text transform="translate(111.95 367) scale(1 1.1)" font-size="9.6" text-anchor="middle">5</text>
<line x1="170.2" y1="353.4" x2="170.2" y2="357.2" stroke="#1e1e1e" stroke-width="1.1"/>
<text transform="translate(170.2 367) scale(1 1.1)" font-size="9.6" text-anchor="middle">10</text>
<line x1="228.45" y1="353.4" x2="228.45" y2="357.2" stroke="#1e1e1e" stroke-width="1.1"/>
<text transform="translate(228.45 367) scale(1 1.1)" font-size="9.6" text-anchor="middle">15</text>
<line x1="286.7" y1="353.4" x2="286.7" y2="357.2" stroke="#1e1e1e" stroke-width="1.1"/>
<text transform="translate(286.7 367) scale(1 1.1)" font-size="9.6" text-anchor="middle">20</text>
<text x="187.7" y="381" font-size="12" text-anchor="middle">Number of strains</text>
<text transform="translate(19.4 284) rotate(-90)" font-size="12" text-anchor="middle">Number of gene</text>
<text transform="translate(31.1 284.5) rotate(-90)" font-size="12" text-anchor="middle">families (x1000)</text>
<polyline points="65.4,224.6 77,228 88.6,229 100.2,229.5 111.8,230 123.4,230.4 135,230.8 146.6,231.1 158.2,231.4 169.8,231.6 181.4,231.8 193,232 204.6,232.2 216.2,232.4 227.8,232.6 239.4,232.8 251,233 262.6,233.2 274.2,233.4 285.8,233.6 297.4,233.85 309,234.1" fill="none" stroke="#004488" stroke-width="1.4" stroke-linejoin="round"/>
<line x1="65.4" y1="220.6" x2="65.4" y2="228.4" stroke="#004488" stroke-width="1.25"/>
<line x1="77" y1="227.15" x2="77" y2="228.85" stroke="#004488" stroke-width="0.8"/>
<line x1="88.6" y1="228.15" x2="88.6" y2="229.85" stroke="#004488" stroke-width="0.8"/>
<line x1="100.2" y1="228.65" x2="100.2" y2="230.35" stroke="#004488" stroke-width="0.8"/>
<line x1="111.8" y1="229.15" x2="111.8" y2="230.85" stroke="#004488" stroke-width="0.8"/>
<line x1="123.4" y1="229.55" x2="123.4" y2="231.25" stroke="#004488" stroke-width="0.8"/>
<line x1="135" y1="229.95" x2="135" y2="231.65" stroke="#004488" stroke-width="0.8"/>
<line x1="146.6" y1="230.25" x2="146.6" y2="231.95" stroke="#004488" stroke-width="0.8"/>
<line x1="158.2" y1="230.55" x2="158.2" y2="232.25" stroke="#004488" stroke-width="0.8"/>
<line x1="169.8" y1="230.75" x2="169.8" y2="232.45" stroke="#004488" stroke-width="0.8"/>
<line x1="181.4" y1="230.95" x2="181.4" y2="232.65" stroke="#004488" stroke-width="0.8"/>
<line x1="193" y1="231.15" x2="193" y2="232.85" stroke="#004488" stroke-width="0.8"/>
<line x1="204.6" y1="231.35" x2="204.6" y2="233.05" stroke="#004488" stroke-width="0.8"/>
<line x1="216.2" y1="231.55" x2="216.2" y2="233.25" stroke="#004488" stroke-width="0.8"/>
<line x1="227.8" y1="231.75" x2="227.8" y2="233.45" stroke="#004488" stroke-width="0.8"/>
<line x1="239.4" y1="231.95" x2="239.4" y2="233.65" stroke="#004488" stroke-width="0.8"/>
<line x1="251" y1="232.15" x2="251" y2="233.85" stroke="#004488" stroke-width="0.8"/>
<line x1="262.6" y1="232.35" x2="262.6" y2="234.05" stroke="#004488" stroke-width="0.8"/>
<line x1="274.2" y1="232.55" x2="274.2" y2="234.25" stroke="#004488" stroke-width="0.8"/>
<line x1="285.8" y1="232.75" x2="285.8" y2="234.45" stroke="#004488" stroke-width="0.8"/>
<line x1="297.4" y1="233" x2="297.4" y2="234.7" stroke="#004488" stroke-width="0.8"/>
<polyline points="78.16,341.3 89.79,337.7 101.42,335.2 113.05,332.6 124.68,330.5 136.31,328.5 147.94,326.4 159.57,325 171.2,323.4 182.83,322.1 194.46,320.4 206.09,318.5 217.72,316.4 229.35,314.6 240.98,312.7 252.61,311.1 264.24,309.3 275.87,308 287.5,306.4 299.13,304.9 310.76,303.1" fill="none" stroke="#BB5566" stroke-width="1.25" stroke-linejoin="round"/>
<line x1="78.16" y1="335.55" x2="78.16" y2="347.05" stroke="#BB5566" stroke-width="1.25"/>
<line x1="89.79" y1="331.05" x2="89.79" y2="344.35" stroke="#BB5566" stroke-width="1.25"/>
<line x1="101.42" y1="327.8" x2="101.42" y2="342.6" stroke="#BB5566" stroke-width="1.25"/>
<line x1="113.05" y1="324.45" x2="113.05" y2="340.75" stroke="#BB5566" stroke-width="1.25"/>
<line x1="124.68" y1="321.8" x2="124.68" y2="339.2" stroke="#BB5566" stroke-width="1.25"/>
<line x1="136.31" y1="319.6" x2="136.31" y2="337.4" stroke="#BB5566" stroke-width="1.25"/>
<line x1="147.94" y1="317.2" x2="147.94" y2="335.6" stroke="#BB5566" stroke-width="1.25"/>
<line x1="159.57" y1="315.6" x2="159.57" y2="334.4" stroke="#BB5566" stroke-width="1.25"/>
<line x1="171.2" y1="313.9" x2="171.2" y2="332.9" stroke="#BB5566" stroke-width="1.25"/>
<line x1="182.83" y1="312.8" x2="182.83" y2="331.4" stroke="#BB5566" stroke-width="1.25"/>
<line x1="194.46" y1="311" x2="194.46" y2="329.8" stroke="#BB5566" stroke-width="1.25"/>
<line x1="206.09" y1="309.2" x2="206.09" y2="327.8" stroke="#BB5566" stroke-width="1.25"/>
<line x1="217.72" y1="307.2" x2="217.72" y2="325.6" stroke="#BB5566" stroke-width="1.25"/>
<line x1="229.35" y1="305.75" x2="229.35" y2="323.45" stroke="#BB5566" stroke-width="1.25"/>
<line x1="240.98" y1="304.3" x2="240.98" y2="321.1" stroke="#BB5566" stroke-width="1.25"/>
<line x1="252.61" y1="303.25" x2="252.61" y2="318.95" stroke="#BB5566" stroke-width="1.25"/>
<line x1="264.24" y1="302.05" x2="264.24" y2="316.55" stroke="#BB5566" stroke-width="1.25"/>
<line x1="275.87" y1="301.35" x2="275.87" y2="314.65" stroke="#BB5566" stroke-width="1.25"/>
<line x1="287.5" y1="300.95" x2="287.5" y2="311.85" stroke="#BB5566" stroke-width="1.25"/>
<line x1="299.13" y1="301" x2="299.13" y2="308.8" stroke="#BB5566" stroke-width="1.25"/>
<rect x="228.4" y="337" width="8.5" height="8.6" fill="#004488"/>
<text x="238" y="344.2" font-size="9.5">Core</text>
<rect x="269.2" y="337" width="8.5" height="8.6" fill="#BB5566"/>
<text x="279.3" y="344.2" font-size="9.5">Accessory</text>
<line x1="398.2" y1="214.3" x2="398.2" y2="354.65" stroke="#1e1e1e" stroke-width="1.3"/>
<line x1="394.3" y1="320.1" x2="398.2" y2="320.1" stroke="#1e1e1e" stroke-width="1.1"/>
<text transform="translate(392.6 323.5) scale(1 1.1)" font-size="9.6" text-anchor="end">2</text>
<line x1="394.3" y1="283.4" x2="398.2" y2="283.4" stroke="#1e1e1e" stroke-width="1.1"/>
<text transform="translate(392.6 286.8) scale(1 1.1)" font-size="9.6" text-anchor="end">4</text>
<line x1="394.3" y1="246.7" x2="398.2" y2="246.7" stroke="#1e1e1e" stroke-width="1.1"/>
<text transform="translate(392.6 250.1) scale(1 1.1)" font-size="9.6" text-anchor="end">6</text>
<line x1="397.55" y1="354" x2="670.7" y2="354" stroke="#1e1e1e" stroke-width="1.3"/>
<line x1="400.4" y1="354" x2="400.4" y2="357.8" stroke="#1e1e1e" stroke-width="1.1"/>
<text transform="translate(400.4 368) scale(1 1.1)" font-size="9.6" text-anchor="middle">0</text>
<line x1="458.6" y1="354" x2="458.6" y2="357.8" stroke="#1e1e1e" stroke-width="1.1"/>
<text transform="translate(458.6 368) scale(1 1.1)" font-size="9.6" text-anchor="middle">5</text>
<line x1="516.8" y1="354" x2="516.8" y2="357.8" stroke="#1e1e1e" stroke-width="1.1"/>
<text transform="translate(516.8 368) scale(1 1.1)" font-size="9.6" text-anchor="middle">10</text>
<line x1="575" y1="354" x2="575" y2="357.8" stroke="#1e1e1e" stroke-width="1.1"/>
<text transform="translate(575 368) scale(1 1.1)" font-size="9.6" text-anchor="middle">15</text>
<line x1="633.2" y1="354" x2="633.2" y2="357.8" stroke="#1e1e1e" stroke-width="1.1"/>
<text transform="translate(633.2 368) scale(1 1.1)" font-size="9.6" text-anchor="middle">20</text>
<text x="534.5" y="381.6" font-size="12" text-anchor="middle">Number of strains</text>
<text transform="translate(364.6 284.1) rotate(-90)" font-size="12" text-anchor="middle">Number of BGC</text>
<text transform="translate(377.8 284.1) rotate(-90)" font-size="12" text-anchor="middle">families (x10)</text>
<polyline points="411.5,226.3 423.1,233.9 434.7,238.9 446.3,242.7 457.9,246 469.5,248.9 481.1,251.3 492.7,253.8 504.3,255.9 515.9,257.8 527.5,259.6 539.1,261.3 550.7,262.9 562.3,264.7 573.9,265.8 585.5,267.1 597.1,268.2 608.7,269.3 620.3,270.1 631.9,271.2 643.5,271.9 655.1,272.6" fill="none" stroke="#004488" stroke-width="1.25" stroke-linejoin="round"/>
<line x1="411.5" y1="220.9" x2="411.5" y2="231.7" stroke="#004488" stroke-width="1.25"/>
<line x1="423.1" y1="229.55" x2="423.1" y2="238.25" stroke="#004488" stroke-width="1.25"/>
<line x1="434.7" y1="234.1" x2="434.7" y2="243.7" stroke="#004488" stroke-width="1.25"/>
<line x1="446.3" y1="237.85" x2="446.3" y2="247.55" stroke="#004488" stroke-width="1.25"/>
<line x1="457.9" y1="241.35" x2="457.9" y2="250.65" stroke="#004488" stroke-width="1.25"/>
<line x1="469.5" y1="244.15" x2="469.5" y2="253.65" stroke="#004488" stroke-width="1.25"/>
<line x1="481.1" y1="246.75" x2="481.1" y2="255.85" stroke="#004488" stroke-width="1.25"/>
<line x1="492.7" y1="249.4" x2="492.7" y2="258.2" stroke="#004488" stroke-width="1.25"/>
<line x1="504.3" y1="251.4" x2="504.3" y2="260.4" stroke="#004488" stroke-width="1.25"/>
<line x1="515.9" y1="253.4" x2="515.9" y2="262.2" stroke="#004488" stroke-width="1.25"/>
<line x1="527.5" y1="255.45" x2="527.5" y2="263.75" stroke="#004488" stroke-width="1.25"/>
<line x1="539.1" y1="257.1" x2="539.1" y2="265.5" stroke="#004488" stroke-width="1.25"/>
<line x1="550.7" y1="259.15" x2="550.7" y2="266.65" stroke="#004488" stroke-width="1.25"/>
<line x1="562.3" y1="261.45" x2="562.3" y2="267.95" stroke="#004488" stroke-width="1.25"/>
<line x1="573.9" y1="262.7" x2="573.9" y2="268.9" stroke="#004488" stroke-width="1.25"/>
<line x1="585.5" y1="264.4" x2="585.5" y2="269.8" stroke="#004488" stroke-width="1.25"/>
<line x1="597.1" y1="265.9" x2="597.1" y2="270.5" stroke="#004488" stroke-width="1.25"/>
<line x1="608.7" y1="266.9" x2="608.7" y2="271.7" stroke="#004488" stroke-width="1.25"/>
<line x1="620.3" y1="268.25" x2="620.3" y2="271.95" stroke="#004488" stroke-width="1.25"/>
<line x1="631.9" y1="269.7" x2="631.9" y2="272.7" stroke="#004488" stroke-width="1.25"/>
<line x1="643.5" y1="270.65" x2="643.5" y2="273.15" stroke="#004488" stroke-width="1.25"/>
<polyline points="424.48,339.9 436.12,331.8 447.76,325.5 459.4,319.7 471.04,315.3 482.68,310.8 494.32,306.4 505.96,302.4 517.6,298.5 529.24,295 540.88,292 552.52,288.9 564.16,286.3 575.8,283.3 587.44,280.4 599.08,277.7 610.72,275.5 622.36,273.4 634,271.2 645.64,269 657.28,267.2" fill="none" stroke="#BB5566" stroke-width="1.25" stroke-linejoin="round"/>
<line x1="424.48" y1="332.9" x2="424.48" y2="346.9" stroke="#BB5566" stroke-width="1.25"/>
<line x1="436.12" y1="323.4" x2="436.12" y2="340.2" stroke="#BB5566" stroke-width="1.25"/>
<line x1="447.76" y1="316.75" x2="447.76" y2="334.25" stroke="#BB5566" stroke-width="1.25"/>
<line x1="459.4" y1="310.45" x2="459.4" y2="328.95" stroke="#BB5566" stroke-width="1.25"/>
<line x1="471.04" y1="305.85" x2="471.04" y2="324.75" stroke="#BB5566" stroke-width="1.25"/>
<line x1="482.68" y1="301.35" x2="482.68" y2="320.25" stroke="#BB5566" stroke-width="1.25"/>
<line x1="494.32" y1="296.9" x2="494.32" y2="315.9" stroke="#BB5566" stroke-width="1.25"/>
<line x1="505.96" y1="293.05" x2="505.96" y2="311.75" stroke="#BB5566" stroke-width="1.25"/>
<line x1="517.6" y1="289.7" x2="517.6" y2="307.3" stroke="#BB5566" stroke-width="1.25"/>
<line x1="529.24" y1="286.4" x2="529.24" y2="303.6" stroke="#BB5566" stroke-width="1.25"/>
<line x1="540.88" y1="283.55" x2="540.88" y2="300.45" stroke="#BB5566" stroke-width="1.25"/>
<line x1="552.52" y1="281" x2="552.52" y2="296.8" stroke="#BB5566" stroke-width="1.25"/>
<line x1="564.16" y1="278.85" x2="564.16" y2="293.75" stroke="#BB5566" stroke-width="1.25"/>
<line x1="575.8" y1="276.4" x2="575.8" y2="290.2" stroke="#BB5566" stroke-width="1.25"/>
<line x1="587.44" y1="274.05" x2="587.44" y2="286.75" stroke="#BB5566" stroke-width="1.25"/>
<line x1="599.08" y1="271.85" x2="599.08" y2="283.55" stroke="#BB5566" stroke-width="1.25"/>
<line x1="610.72" y1="270.2" x2="610.72" y2="280.8" stroke="#BB5566" stroke-width="1.25"/>
<line x1="622.36" y1="268.75" x2="622.36" y2="278.05" stroke="#BB5566" stroke-width="1.25"/>
<line x1="634" y1="267.4" x2="634" y2="275" stroke="#BB5566" stroke-width="1.25"/>
<line x1="645.64" y1="266.4" x2="645.64" y2="271.6" stroke="#BB5566" stroke-width="1.25"/>
<rect x="575.4" y="337" width="8.4" height="8.5" fill="#004488"/>
<text x="585" y="344.2" font-size="9.5">Core</text>
<rect x="616.2" y="337" width="8.5" height="8.5" fill="#BB5566"/>
<text x="626.2" y="344.2" font-size="9.5">Accessory</text>
<line x1="50.9" y1="417" x2="50.9" y2="578.75" stroke="#1e1e1e" stroke-width="1.3"/>
<line x1="46.9" y1="575.4" x2="50.9" y2="575.4" stroke="#1e1e1e" stroke-width="1.1"/>
<text transform="translate(45.3 578.8) scale(1 1.1)" font-size="9.6" text-anchor="end">0</text>
<line x1="46.9" y1="533.6" x2="50.9" y2="533.6" stroke="#1e1e1e" stroke-width="1.1"/>
<text transform="translate(45.3 537) scale(1 1.1)" font-size="9.6" text-anchor="end">250</text>
<line x1="46.9" y1="491.8" x2="50.9" y2="491.8" stroke="#1e1e1e" stroke-width="1.1"/>
<text transform="translate(45.3 495.2) scale(1 1.1)" font-size="9.6" text-anchor="end">500</text>
<line x1="46.9" y1="450" x2="50.9" y2="450" stroke="#1e1e1e" stroke-width="1.1"/>
<text transform="translate(45.3 453.4) scale(1 1.1)" font-size="9.6" text-anchor="end">750</text>
<line x1="50.25" y1="578.1" x2="170.7" y2="578.1" stroke="#1e1e1e" stroke-width="1.3"/>
<line x1="68.3" y1="578.1" x2="68.3" y2="581.9" stroke="#1e1e1e" stroke-width="1.1"/>
<line x1="96.5" y1="578.1" x2="96.5" y2="581.9" stroke="#1e1e1e" stroke-width="1.1"/>
<line x1="124.9" y1="578.1" x2="124.9" y2="581.9" stroke="#1e1e1e" stroke-width="1.1"/>
<line x1="153.3" y1="578.1" x2="153.3" y2="581.9" stroke="#1e1e1e" stroke-width="1.1"/>
<line x1="68.3" y1="429.1" x2="68.3" y2="549.5" stroke="#0072B2" stroke-width="1"/>
<line x1="65.5" y1="429.1" x2="71.1" y2="429.1" stroke="#0072B2" stroke-width="1"/>
<line x1="65.5" y1="549.5" x2="71.1" y2="549.5" stroke="#0072B2" stroke-width="1"/>
<circle cx="68.3" cy="489.6" r="3.5" fill="#0072B2"/>
<line x1="96.5" y1="423.8" x2="96.5" y2="554.2" stroke="#D55E00" stroke-width="1"/>
<line x1="93.7" y1="423.8" x2="99.3" y2="423.8" stroke="#D55E00" stroke-width="1"/>
<line x1="93.7" y1="554.2" x2="99.3" y2="554.2" stroke="#D55E00" stroke-width="1"/>
<circle cx="96.5" cy="489.3" r="3.5" fill="#D55E00"/>
<line x1="124.9" y1="432.9" x2="124.9" y2="570.5" stroke="#009E73" stroke-width="1"/>
<line x1="122.1" y1="432.9" x2="127.7" y2="432.9" stroke="#009E73" stroke-width="1"/>
<line x1="122.1" y1="570.5" x2="127.7" y2="570.5" stroke="#009E73" stroke-width="1"/>
<circle cx="124.9" cy="501.7" r="3.5" fill="#009E73"/>
<line x1="153.3" y1="446.6" x2="153.3" y2="570.1" stroke="#CC79A7" stroke-width="1"/>
<line x1="150.5" y1="446.6" x2="156.1" y2="446.6" stroke="#CC79A7" stroke-width="1"/>
<line x1="150.5" y1="570.1" x2="156.1" y2="570.1" stroke="#CC79A7" stroke-width="1"/>
<circle cx="153.3" cy="508.6" r="3.5" fill="#CC79A7"/>
<line x1="96.9" y1="395.5" x2="125" y2="395.5" stroke="#1a1a1a" stroke-width="1"/>
<text x="110.95" y="397.6" font-size="8.5" text-anchor="middle">***</text>
<line x1="96.9" y1="401.5" x2="153.4" y2="401.5" stroke="#1a1a1a" stroke-width="1"/>
<text x="125.15" y="403.6" font-size="8.5" text-anchor="middle">***</text>
<line x1="125.3" y1="407.5" x2="153.4" y2="407.5" stroke="#1a1a1a" stroke-width="1"/>
<text x="139.35" y="409.6" font-size="8.5" text-anchor="middle">**</text>
<line x1="68.3" y1="411.5" x2="125" y2="411.5" stroke="#1a1a1a" stroke-width="1"/>
<text x="96.65" y="413.6" font-size="8.5" text-anchor="middle">***</text>
<line x1="68.3" y1="416.5" x2="153.4" y2="416.5" stroke="#1a1a1a" stroke-width="1"/>
<text x="110.85" y="418.6" font-size="8.5" text-anchor="middle">***</text>
<text transform="translate(20.8 497.4) rotate(-90)" font-size="12" text-anchor="middle">Average length</text>
<text transform="translate(71.4 590.6) rotate(-35)" font-size="11.9" text-anchor="end">Core</text>
<text transform="translate(107.4 590.6) rotate(-35)" font-size="11.9" text-anchor="end">Softcore</text>
<text transform="translate(131.3 590.6) rotate(-35)" font-size="11.9" text-anchor="end">Shell</text>
<text transform="translate(157.7 590.6) rotate(-35)" font-size="11.9" text-anchor="end">Cloud</text>
<line x1="397.8" y1="417.5" x2="397.8" y2="578.85" stroke="#1e1e1e" stroke-width="1.3"/>
<line x1="393.8" y1="571.6" x2="397.8" y2="571.6" stroke="#1e1e1e" stroke-width="1.1"/>
<text transform="translate(392.2 575) scale(1 1.1)" font-size="9.6" text-anchor="end">0</text>
<line x1="393.8" y1="520.6" x2="397.8" y2="520.6" stroke="#1e1e1e" stroke-width="1.1"/>
<text transform="translate(392.2 524) scale(1 1.1)" font-size="9.6" text-anchor="end">10</text>
<line x1="393.8" y1="469.6" x2="397.8" y2="469.6" stroke="#1e1e1e" stroke-width="1.1"/>
<text transform="translate(392.2 473) scale(1 1.1)" font-size="9.6" text-anchor="end">20</text>
<line x1="393.8" y1="418.6" x2="397.8" y2="418.6" stroke="#1e1e1e" stroke-width="1.1"/>
<text transform="translate(392.2 422) scale(1 1.1)" font-size="9.6" text-anchor="end">30</text>
<line x1="397.15" y1="578.2" x2="517.1" y2="578.2" stroke="#1e1e1e" stroke-width="1.3"/>
<line x1="415" y1="578.2" x2="415" y2="582" stroke="#1e1e1e" stroke-width="1.1"/>
<line x1="443.4" y1="578.2" x2="443.4" y2="582" stroke="#1e1e1e" stroke-width="1.1"/>
<line x1="471.6" y1="578.2" x2="471.6" y2="582" stroke="#1e1e1e" stroke-width="1.1"/>
<line x1="500" y1="578.2" x2="500" y2="582" stroke="#1e1e1e" stroke-width="1.1"/>
<line x1="415" y1="465.2" x2="415" y2="531.3" stroke="#0072B2" stroke-width="1"/>
<line x1="412.2" y1="465.2" x2="417.8" y2="465.2" stroke="#0072B2" stroke-width="1"/>
<line x1="412.2" y1="531.3" x2="417.8" y2="531.3" stroke="#0072B2" stroke-width="1"/>
<circle cx="415" cy="498.5" r="3.5" fill="#0072B2"/>
<line x1="443.4" y1="480.5" x2="443.4" y2="519.4" stroke="#D55E00" stroke-width="1"/>
<line x1="440.6" y1="480.5" x2="446.2" y2="480.5" stroke="#D55E00" stroke-width="1"/>
<line x1="440.6" y1="519.4" x2="446.2" y2="519.4" stroke="#D55E00" stroke-width="1"/>
<circle cx="443.4" cy="500.1" r="3.5" fill="#D55E00"/>
<line x1="471.6" y1="453.5" x2="471.6" y2="526.2" stroke="#009E73" stroke-width="1"/>
<line x1="468.8" y1="453.5" x2="474.4" y2="453.5" stroke="#009E73" stroke-width="1"/>
<line x1="468.8" y1="526.2" x2="474.4" y2="526.2" stroke="#009E73" stroke-width="1"/>
<circle cx="471.6" cy="489.8" r="3.5" fill="#009E73"/>
<line x1="500" y1="424.4" x2="500" y2="570.6" stroke="#CC79A7" stroke-width="1"/>
<line x1="497.2" y1="424.4" x2="502.8" y2="424.4" stroke="#CC79A7" stroke-width="1"/>
<line x1="497.2" y1="570.6" x2="502.8" y2="570.6" stroke="#CC79A7" stroke-width="1"/>
<circle cx="500" cy="497.3" r="3.5" fill="#CC79A7"/>
<line x1="443.2" y1="394.5" x2="471.9" y2="394.5" stroke="#1a1a1a" stroke-width="1"/>
<text x="457.55" y="396.6" font-size="8.5" text-anchor="middle">*</text>
<line x1="471.9" y1="400.5" x2="500.2" y2="400.5" stroke="#1a1a1a" stroke-width="1"/>
<text x="486.05" y="402.6" font-size="8.5" text-anchor="middle">***</text>
<line x1="443.2" y1="405.5" x2="500.2" y2="405.5" stroke="#1a1a1a" stroke-width="1"/>
<text x="471.7" y="407.6" font-size="8.5" text-anchor="middle">**</text>
<line x1="414.9" y1="411.5" x2="471.9" y2="411.5" stroke="#1a1a1a" stroke-width="1"/>
<text x="443.4" y="413.6" font-size="8.5" text-anchor="middle">***</text>
<line x1="414.9" y1="416.5" x2="500.2" y2="416.5" stroke="#1a1a1a" stroke-width="1"/>
<text x="457.55" y="418.6" font-size="8.5" text-anchor="middle">*</text>
<text transform="translate(374 497.8) rotate(-90)" font-size="12" text-anchor="middle">Number of genes</text>
<text transform="translate(425.1 590.6) rotate(-35)" font-size="11.9" text-anchor="end">Core</text>
<text transform="translate(460.5 590.6) rotate(-35)" font-size="11.9" text-anchor="end">Softcore</text>
<text transform="translate(484.3 590.6) rotate(-35)" font-size="11.9" text-anchor="end">Shell</text>
<text transform="translate(511 590.6) rotate(-35)" font-size="11.9" text-anchor="end">Cloud</text>
<rect x="209.1" y="424.1" width="25.4" height="16.6" fill="#BBBBBB"/>
<rect x="209.1" y="440.7" width="25.4" height="130.5" fill="#882255"/>
<text x="221.8" y="435.7" font-size="9.6" text-anchor="middle">845</text>
<text x="221.8" y="509.25" font-size="9.6" text-anchor="middle" fill="#ffffff">6,640</text>
<rect x="237.5" y="424.1" width="25.4" height="16.6" fill="#BBBBBB"/>
<rect x="237.5" y="440.7" width="25.4" height="130.5" fill="#882255"/>
<text x="250.2" y="435.7" font-size="9.6" text-anchor="middle">163</text>
<text x="250.2" y="509.25" font-size="9.6" text-anchor="middle" fill="#ffffff">1,285</text>
<rect x="266" y="424.1" width="25.4" height="30.9" fill="#BBBBBB"/>
<rect x="266" y="455" width="25.4" height="116.2" fill="#882255"/>
<text x="278.7" y="442.85" font-size="9.6" text-anchor="middle">166</text>
<text x="278.7" y="516.4" font-size="9.6" text-anchor="middle" fill="#ffffff">627</text>
<rect x="294.3" y="424.1" width="25.4" height="48.5" fill="#BBBBBB"/>
<rect x="294.3" y="472.6" width="25.4" height="98.6" fill="#882255"/>
<text x="307" y="451.65" font-size="9.6" text-anchor="middle">116</text>
<text x="307" y="525.2" font-size="9.6" text-anchor="middle" fill="#ffffff">236</text>
<line x1="204.5" y1="417" x2="204.5" y2="578.45" stroke="#1e1e1e" stroke-width="1.3"/>
<line x1="200.5" y1="571.2" x2="204.5" y2="571.2" stroke="#1e1e1e" stroke-width="1.1"/>
<text transform="translate(198.9 574.6) scale(1 1.1)" font-size="9.6" text-anchor="end">0</text>
<line x1="200.5" y1="534.43" x2="204.5" y2="534.43" stroke="#1e1e1e" stroke-width="1.1"/>
<text transform="translate(198.9 537.83) scale(1 1.1)" font-size="9.6" text-anchor="end">25</text>
<line x1="200.5" y1="497.65" x2="204.5" y2="497.65" stroke="#1e1e1e" stroke-width="1.1"/>
<text transform="translate(198.9 501.05) scale(1 1.1)" font-size="9.6" text-anchor="end">50</text>
<line x1="200.5" y1="460.88" x2="204.5" y2="460.88" stroke="#1e1e1e" stroke-width="1.1"/>
<text transform="translate(198.9 464.28) scale(1 1.1)" font-size="9.6" text-anchor="end">75</text>
<line x1="200.5" y1="424.1" x2="204.5" y2="424.1" stroke="#1e1e1e" stroke-width="1.1"/>
<text transform="translate(198.9 427.5) scale(1 1.1)" font-size="9.6" text-anchor="end">100</text>
<line x1="203.85" y1="577.8" x2="323.4" y2="577.8" stroke="#1e1e1e" stroke-width="1.3"/>
<line x1="221.8" y1="577.8" x2="221.8" y2="581.6" stroke="#1e1e1e" stroke-width="1.1"/>
<line x1="250.2" y1="577.8" x2="250.2" y2="581.6" stroke="#1e1e1e" stroke-width="1.1"/>
<line x1="278.7" y1="577.8" x2="278.7" y2="581.6" stroke="#1e1e1e" stroke-width="1.1"/>
<line x1="307" y1="577.8" x2="307" y2="581.6" stroke="#1e1e1e" stroke-width="1.1"/>
<text transform="translate(232.6 590.6) rotate(-35)" font-size="11.9" text-anchor="end">Core</text>
<text transform="translate(267.5 590.6) rotate(-35)" font-size="11.9" text-anchor="end">Softcore</text>
<text transform="translate(290.9 590.6) rotate(-35)" font-size="11.9" text-anchor="end">Shell</text>
<text transform="translate(317.8 590.6) rotate(-35)" font-size="11.9" text-anchor="end">Cloud</text>
<text transform="translate(179.6 496.9) rotate(-90)" font-size="12" text-anchor="middle">Percentage</text>
<rect x="205.2" y="627.2" width="8.4" height="8.5" fill="#882255"/>
<text x="214.5" y="635" font-size="9.5">Annotated</text>
<rect x="268.2" y="627.2" width="8.4" height="8.5" fill="#BBBBBB"/>
<text x="278.4" y="635" font-size="9.5">Unannotated</text>
<rect x="555.75" y="424.1" width="25.3" height="111.9" fill="#BBBBBB"/>
<rect x="555.75" y="536" width="25.3" height="35.2" fill="#882255"/>
<text x="568.4" y="483.35" font-size="9.6" text-anchor="middle">35</text>
<text x="568.4" y="556.9" font-size="9.6" text-anchor="middle" fill="#ffffff">11</text>
<rect x="584.05" y="424.1" width="25.3" height="98.1" fill="#BBBBBB"/>
<rect x="584.05" y="522.2" width="25.3" height="49" fill="#882255"/>
<text x="596.7" y="476.45" font-size="9.6" text-anchor="middle">6</text>
<text x="596.7" y="550" font-size="9.6" text-anchor="middle" fill="#ffffff">3</text>
<rect x="612.55" y="424.1" width="25.3" height="120.4" fill="#BBBBBB"/>
<rect x="612.55" y="544.5" width="25.3" height="26.7" fill="#882255"/>
<text x="625.2" y="487.6" font-size="9.6" text-anchor="middle">18</text>
<text x="625.2" y="561.15" font-size="9.6" text-anchor="middle" fill="#ffffff">4</text>
<rect x="641.05" y="424.1" width="25.3" height="114.4" fill="#BBBBBB"/>
<rect x="641.05" y="538.5" width="25.3" height="32.7" fill="#882255"/>
<text x="653.7" y="484.6" font-size="9.6" text-anchor="middle">14</text>
<text x="653.7" y="558.15" font-size="9.6" text-anchor="middle" fill="#ffffff">4</text>
<line x1="551.6" y1="417" x2="551.6" y2="578.45" stroke="#1e1e1e" stroke-width="1.3"/>
<line x1="547.6" y1="571.2" x2="551.6" y2="571.2" stroke="#1e1e1e" stroke-width="1.1"/>
<text transform="translate(546 574.6) scale(1 1.1)" font-size="9.6" text-anchor="end">0</text>
<line x1="547.6" y1="534.43" x2="551.6" y2="534.43" stroke="#1e1e1e" stroke-width="1.1"/>
<text transform="translate(546 537.83) scale(1 1.1)" font-size="9.6" text-anchor="end">25</text>
<line x1="547.6" y1="497.65" x2="551.6" y2="497.65" stroke="#1e1e1e" stroke-width="1.1"/>
<text transform="translate(546 501.05) scale(1 1.1)" font-size="9.6" text-anchor="end">50</text>
<line x1="547.6" y1="460.88" x2="551.6" y2="460.88" stroke="#1e1e1e" stroke-width="1.1"/>
<text transform="translate(546 464.28) scale(1 1.1)" font-size="9.6" text-anchor="end">75</text>
<line x1="547.6" y1="424.1" x2="551.6" y2="424.1" stroke="#1e1e1e" stroke-width="1.1"/>
<text transform="translate(546 427.5) scale(1 1.1)" font-size="9.6" text-anchor="end">100</text>
<line x1="550.95" y1="577.8" x2="670.7" y2="577.8" stroke="#1e1e1e" stroke-width="1.3"/>
<line x1="568.4" y1="577.8" x2="568.4" y2="581.6" stroke="#1e1e1e" stroke-width="1.1"/>
<line x1="596.7" y1="577.8" x2="596.7" y2="581.6" stroke="#1e1e1e" stroke-width="1.1"/>
<line x1="625.2" y1="577.8" x2="625.2" y2="581.6" stroke="#1e1e1e" stroke-width="1.1"/>
<line x1="653.7" y1="577.8" x2="653.7" y2="581.6" stroke="#1e1e1e" stroke-width="1.1"/>
<text transform="translate(578.9 590.6) rotate(-35)" font-size="11.9" text-anchor="end">Core</text>
<text transform="translate(614.4 590.6) rotate(-35)" font-size="11.9" text-anchor="end">Softcore</text>
<text transform="translate(637.5 590.6) rotate(-35)" font-size="11.9" text-anchor="end">Shell</text>
<text transform="translate(664 590.6) rotate(-35)" font-size="11.9" text-anchor="end">Cloud</text>
<text transform="translate(526.4 496.9) rotate(-90)" font-size="12" text-anchor="middle">Percentage</text>
<rect x="551.6" y="627.2" width="8.4" height="8.5" fill="#882255"/>
<text x="560.9" y="635" font-size="9.5">Annotated</text>
<rect x="614.6" y="627.2" width="8.4" height="8.5" fill="#BBBBBB"/>
<text x="624.8" y="635" font-size="9.5">Unannotated</text>
</g>
</svg>
</body></html>
